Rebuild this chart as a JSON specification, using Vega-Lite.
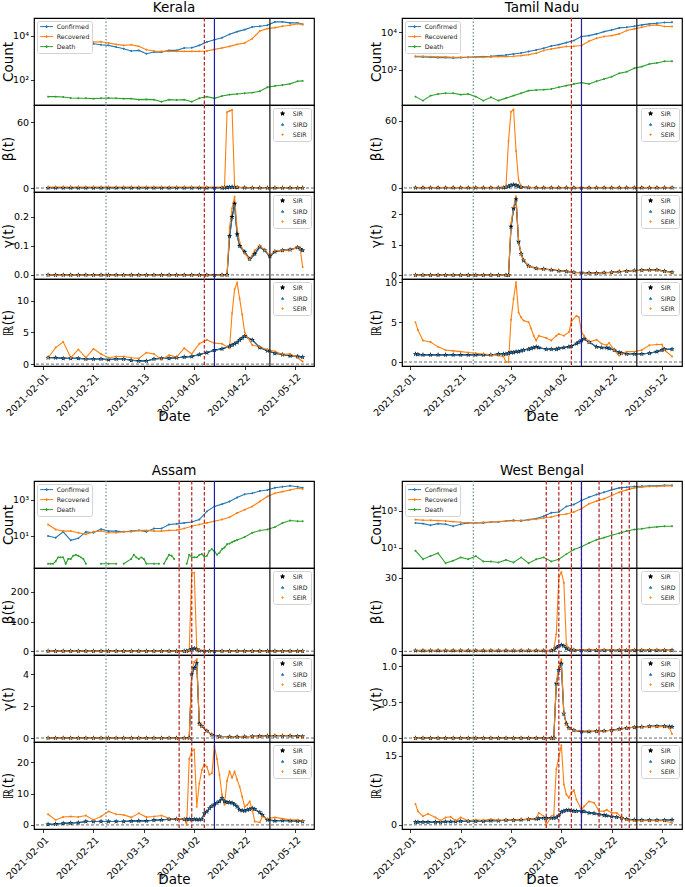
{
"$schema":"https://vega.github.io/schema/vega-lite/v6.json",
"background":"white",
"padding":{"left":0,"top":0,"right":0,"bottom":0},
"config":{
 "font":"DejaVu Sans",
 "view":{"stroke":"#000000","strokeWidth":1.2},
 "axis":{"grid":false,"domain":false,"tickColor":"#000000","tickSize":3.5,"tickWidth":0.8,"labelFont":"DejaVu Sans","labelFontSize":9.5,"labelColor":"#000000","labelPadding":2,"titleFont":"DejaVu Sans","titleFontSize":13.5,"titleFontWeight":"normal","titleColor":"#000000","titlePadding":3},
 "axisY":{"titleX":-22,"titleBaseline":"alphabetic"},
 "axisX":{"titleY":43,"titleBaseline":"top"},
 "legend":{"padding":2.5,"offset":3,"fillColor":"#ffffff","strokeColor":"#d4d4d4","cornerRadius":2,"labelFont":"DejaVu Sans","labelFontSize":6.2,"labelColor":"#222222","symbolSize":16,"symbolOffset":4,"labelOffset":7,"rowPadding":3,"labelLimit":120},
 "title":{"font":"DejaVu Sans","fontSize":13.5,"fontWeight":"normal","color":"#000000","offset":3,"baseline":"alphabetic"}
},
"datasets":{
"e1":[{"d":"2021-02-26","k":"ann"},{"d":"2021-04-06","k":"poll"},{"d":"2021-04-10","k":"blue"},{"d":"2021-05-02","k":"res"}],
"e2":[{"d":"2021-02-26","k":"ann"},{"d":"2021-03-27","k":"poll"},{"d":"2021-04-01","k":"poll"},{"d":"2021-04-06","k":"poll"},{"d":"2021-04-10","k":"blue"},{"d":"2021-05-02","k":"res"}],
"e3":[{"d":"2021-02-26","k":"ann"},{"d":"2021-03-27","k":"poll"},{"d":"2021-04-01","k":"poll"},{"d":"2021-04-06","k":"poll"},{"d":"2021-04-10","k":"poll"},{"d":"2021-04-17","k":"poll"},{"d":"2021-04-22","k":"poll"},{"d":"2021-04-26","k":"poll"},{"d":"2021-04-29","k":"poll"},{"d":"2021-04-10","k":"blue"},{"d":"2021-05-02","k":"res"}],
"kc":[
{"d":"2021-02-03","Confirmed":6300,"Recovered":6790,"Death":17.3},
{"d":"2021-02-06","Confirmed":5900,"Recovered":6330,"Death":17.3},
{"d":"2021-02-09","Confirmed":5700,"Recovered":6330,"Death":16.7},
{"d":"2021-02-12","Confirmed":5300,"Recovered":5900,"Death":15.0},
{"d":"2021-02-15","Confirmed":4800,"Recovered":5900,"Death":14.5},
{"d":"2021-02-18","Confirmed":4450,"Recovered":5700,"Death":14.5},
{"d":"2021-02-21","Confirmed":4450,"Recovered":5300,"Death":14.0},
{"d":"2021-02-24","Confirmed":4000,"Recovered":5500,"Death":14.5},
{"d":"2021-02-27","Confirmed":3740,"Recovered":4800,"Death":15.0},
{"d":"2021-03-02","Confirmed":3140,"Recovered":4160,"Death":14.5},
{"d":"2021-03-05","Confirmed":2630,"Recovered":3740,"Death":14.0},
{"d":"2021-03-08","Confirmed":2060,"Recovered":4000,"Death":14.0},
{"d":"2021-03-11","Confirmed":2210,"Recovered":3370,"Death":12.6},
{"d":"2021-03-14","Confirmed":1550,"Recovered":2370,"Death":13.0},
{"d":"2021-03-17","Confirmed":1850,"Recovered":2060,"Death":12.6},
{"d":"2021-03-20","Confirmed":1850,"Recovered":1990,"Death":10.2},
{"d":"2021-03-23","Confirmed":2210,"Recovered":1990,"Death":12.6},
{"d":"2021-03-26","Confirmed":2210,"Recovered":1990,"Death":12.2},
{"d":"2021-03-29","Confirmed":2830,"Recovered":1990,"Death":12.6},
{"d":"2021-04-01","Confirmed":2920,"Recovered":1990,"Death":10.2},
{"d":"2021-04-04","Confirmed":3740,"Recovered":1990,"Death":14.5},
{"d":"2021-04-07","Confirmed":5300,"Recovered":2060,"Death":17.3},
{"d":"2021-04-10","Confirmed":6790,"Recovered":2450,"Death":14.5},
{"d":"2021-04-13","Confirmed":8390,"Recovered":2830,"Death":18.6},
{"d":"2021-04-16","Confirmed":11900,"Recovered":3370,"Death":21.4},
{"d":"2021-04-19","Confirmed":15800,"Recovered":4160,"Death":23},
{"d":"2021-04-22","Confirmed":19500,"Recovered":4800,"Death":24.6},
{"d":"2021-04-25","Confirmed":25800,"Recovered":7550,"Death":26.4},
{"d":"2021-04-28","Confirmed":27700,"Recovered":16900,"Death":30.3},
{"d":"2021-05-01","Confirmed":30800,"Recovered":21700,"Death":46},
{"d":"2021-05-04","Confirmed":43800,"Recovered":24000,"Death":53},
{"d":"2021-05-07","Confirmed":43800,"Recovered":27700,"Death":59},
{"d":"2021-05-10","Confirmed":39400,"Recovered":30800,"Death":66},
{"d":"2021-05-13","Confirmed":39400,"Recovered":36700,"Death":87},
{"d":"2021-05-15","Confirmed":34200,"Recovered":33000,"Death":90}],
"kb":[
{"d":"2021-02-03","SIR":0.2,"SIRD":0.2,"SEIR":1},{"d":"2021-02-06","SIR":0.2,"SIRD":0.2,"SEIR":1},{"d":"2021-02-09","SIR":0.2,"SIRD":0.2,"SEIR":1},{"d":"2021-02-12","SIR":0.2,"SIRD":0.2,"SEIR":1},{"d":"2021-02-15","SIR":0.2,"SIRD":0.2,"SEIR":1},{"d":"2021-02-18","SIR":0.2,"SIRD":0.2,"SEIR":1},{"d":"2021-02-21","SIR":0.2,"SIRD":0.2,"SEIR":1},{"d":"2021-02-24","SIR":0.2,"SIRD":0.2,"SEIR":1},{"d":"2021-02-27","SIR":0.2,"SIRD":0.2,"SEIR":1},{"d":"2021-03-02","SIR":0.2,"SIRD":0.2,"SEIR":1},{"d":"2021-03-05","SIR":0.2,"SIRD":0.2,"SEIR":1},{"d":"2021-03-08","SIR":0.2,"SIRD":0.2,"SEIR":1},{"d":"2021-03-11","SIR":0.2,"SIRD":0.2,"SEIR":1},{"d":"2021-03-14","SIR":0.2,"SIRD":0.2,"SEIR":1},{"d":"2021-03-17","SIR":0.2,"SIRD":0.2,"SEIR":1},{"d":"2021-03-20","SIR":0.2,"SIRD":0.2,"SEIR":1},{"d":"2021-03-23","SIR":0.2,"SIRD":0.2,"SEIR":1},{"d":"2021-03-26","SIR":0.2,"SIRD":0.2,"SEIR":1},{"d":"2021-03-29","SIR":0.2,"SIRD":0.2,"SEIR":1},{"d":"2021-04-01","SIR":0.2,"SIRD":0.2,"SEIR":1},{"d":"2021-04-04","SIR":0.2,"SIRD":0.2,"SEIR":1},{"d":"2021-04-07","SIR":0.2,"SIRD":0.2,"SEIR":1},{"d":"2021-04-10","SIR":0.2,"SIRD":0.2,"SEIR":1},{"d":"2021-04-13","SIR":0.2,"SIRD":0.2,"SEIR":1},
{"d":"2021-04-14","SIR":0.3,"SIRD":0.3,"SEIR":1},{"d":"2021-04-15","SIR":0.5,"SIRD":0.5,"SEIR":69},{"d":"2021-04-16","SIR":0.8,"SIRD":0.8,"SEIR":70},{"d":"2021-04-17","SIR":1.0,"SIRD":1.0,"SEIR":71},{"d":"2021-04-18","SIR":0.9,"SIRD":0.9,"SEIR":1.5},{"d":"2021-04-19","SIR":0.6,"SIRD":0.6,"SEIR":0.8},{"d":"2021-04-22","SIR":0.3,"SIRD":0.3,"SEIR":0.4},
{"d":"2021-04-25","SIR":0.2,"SIRD":0.2,"SEIR":0.3},{"d":"2021-04-28","SIR":0.2,"SIRD":0.2,"SEIR":0.3},{"d":"2021-05-01","SIR":0.2,"SIRD":0.2,"SEIR":0.3},{"d":"2021-05-04","SIR":0.2,"SIRD":0.2,"SEIR":0.3},{"d":"2021-05-07","SIR":0.2,"SIRD":0.2,"SEIR":0.3},{"d":"2021-05-10","SIR":0.2,"SIRD":0.2,"SEIR":0.3},{"d":"2021-05-13","SIR":0.2,"SIRD":0.2,"SEIR":0.3},{"d":"2021-05-15","SIR":0.2,"SIRD":0.2,"SEIR":0.3}],
"kg":[
{"d":"2021-02-03","SIR":0,"SIRD":0,"SEIR":0},{"d":"2021-02-06","SIR":0,"SIRD":0,"SEIR":0},{"d":"2021-02-09","SIR":0,"SIRD":0,"SEIR":0},{"d":"2021-02-12","SIR":0,"SIRD":0,"SEIR":0},{"d":"2021-02-15","SIR":0,"SIRD":0,"SEIR":0},{"d":"2021-02-18","SIR":0,"SIRD":0,"SEIR":0},{"d":"2021-02-21","SIR":0,"SIRD":0,"SEIR":0},{"d":"2021-02-24","SIR":0,"SIRD":0,"SEIR":0},{"d":"2021-02-27","SIR":0,"SIRD":0,"SEIR":0},{"d":"2021-03-02","SIR":0,"SIRD":0,"SEIR":0},{"d":"2021-03-05","SIR":0,"SIRD":0,"SEIR":0},{"d":"2021-03-08","SIR":0,"SIRD":0,"SEIR":0},{"d":"2021-03-11","SIR":0,"SIRD":0,"SEIR":0},{"d":"2021-03-14","SIR":0,"SIRD":0,"SEIR":0},{"d":"2021-03-17","SIR":0,"SIRD":0,"SEIR":0},{"d":"2021-03-20","SIR":0,"SIRD":0,"SEIR":0},{"d":"2021-03-23","SIR":0,"SIRD":0,"SEIR":0},{"d":"2021-03-26","SIR":0,"SIRD":0,"SEIR":0},{"d":"2021-03-29","SIR":0,"SIRD":0,"SEIR":0},{"d":"2021-04-01","SIR":0,"SIRD":0,"SEIR":0},{"d":"2021-04-04","SIR":0,"SIRD":0,"SEIR":0},{"d":"2021-04-07","SIR":0,"SIRD":0,"SEIR":0},{"d":"2021-04-10","SIR":0,"SIRD":0,"SEIR":0},{"d":"2021-04-13","SIR":0,"SIRD":0,"SEIR":0},{"d":"2021-04-15","SIR":0,"SIRD":0,"SEIR":0},
{"d":"2021-04-16","SIR":0.134,"SIRD":0.13,"SEIR":0.165},{"d":"2021-04-17","SIR":0.2,"SIRD":0.195,"SEIR":0.23},{"d":"2021-04-18","SIR":0.246,"SIRD":0.24,"SEIR":0.27},{"d":"2021-04-19","SIR":0.14,"SIRD":0.135,"SEIR":0.16},{"d":"2021-04-20","SIR":0.1,"SIRD":0.098,"SEIR":0.113},{"d":"2021-04-22","SIR":0.08,"SIRD":0.078,"SEIR":0.073},{"d":"2021-04-24","SIR":0.055,"SIRD":0.053,"SEIR":0.055},{"d":"2021-04-26","SIR":0.073,"SIRD":0.07,"SEIR":0.085},{"d":"2021-04-28","SIR":0.098,"SIRD":0.095,"SEIR":0.1},{"d":"2021-04-30","SIR":0.085,"SIRD":0.083,"SEIR":0.085},{"d":"2021-05-02","SIR":0.064,"SIRD":0.063,"SEIR":0.067},{"d":"2021-05-04","SIR":0.08,"SIRD":0.08,"SEIR":0.084},{"d":"2021-05-07","SIR":0.085,"SIRD":0.085,"SEIR":0.084},{"d":"2021-05-10","SIR":0.087,"SIRD":0.087,"SEIR":0.087},{"d":"2021-05-13","SIR":0.095,"SIRD":0.094,"SEIR":0.094},{"d":"2021-05-14","SIR":0.09,"SIRD":0.09,"SEIR":0.09},{"d":"2021-05-15","SIR":0.085,"SIRD":0.085,"SEIR":0.027}],
"kr":[
{"d":"2021-02-03","SIR":1.0,"SIRD":1.0,"SEIR":1.0},{"d":"2021-02-06","SIR":1.0,"SIRD":1.0,"SEIR":2.6},{"d":"2021-02-09","SIR":0.9,"SIRD":0.9,"SEIR":3.5},{"d":"2021-02-12","SIR":0.9,"SIRD":0.9,"SEIR":1.0},{"d":"2021-02-15","SIR":0.9,"SIRD":0.9,"SEIR":2.3},{"d":"2021-02-18","SIR":0.8,"SIRD":0.8,"SEIR":1.0},{"d":"2021-02-21","SIR":0.8,"SIRD":0.8,"SEIR":2.4},{"d":"2021-02-24","SIR":0.8,"SIRD":0.8,"SEIR":1.6},{"d":"2021-02-27","SIR":0.7,"SIRD":0.7,"SEIR":1.0},{"d":"2021-03-02","SIR":0.8,"SIRD":0.8,"SEIR":1.2},{"d":"2021-03-05","SIR":0.8,"SIRD":0.8,"SEIR":1.2},{"d":"2021-03-08","SIR":0.6,"SIRD":0.6,"SEIR":1.0},{"d":"2021-03-11","SIR":0.5,"SIRD":0.5,"SEIR":0.9},{"d":"2021-03-14","SIR":0.5,"SIRD":0.5,"SEIR":1.8},{"d":"2021-03-17","SIR":0.8,"SIRD":0.8,"SEIR":1.6},{"d":"2021-03-20","SIR":0.9,"SIRD":0.9,"SEIR":0.7},{"d":"2021-03-23","SIR":0.9,"SIRD":0.9,"SEIR":1.4},{"d":"2021-03-26","SIR":1.0,"SIRD":1.0,"SEIR":1.1},{"d":"2021-03-29","SIR":1.1,"SIRD":1.1,"SEIR":2.5},{"d":"2021-04-01","SIR":1.2,"SIRD":1.2,"SEIR":1.6},{"d":"2021-04-04","SIR":1.5,"SIRD":1.5,"SEIR":3.2},{"d":"2021-04-07","SIR":1.8,"SIRD":1.8,"SEIR":3.8},{"d":"2021-04-10","SIR":2.2,"SIRD":2.2,"SEIR":3.3},{"d":"2021-04-13","SIR":2.4,"SIRD":2.4,"SEIR":3.2},{"d":"2021-04-16","SIR":2.8,"SIRD":2.8,"SEIR":2.5},{"d":"2021-04-17","SIR":3.0,"SIRD":3.0,"SEIR":8.0},{"d":"2021-04-18","SIR":3.2,"SIRD":3.2,"SEIR":11.8},{"d":"2021-04-19","SIR":3.4,"SIRD":3.4,"SEIR":12.8},{"d":"2021-04-20","SIR":3.8,"SIRD":3.8,"SEIR":10.3},{"d":"2021-04-21","SIR":4.1,"SIRD":4.1,"SEIR":7.8},{"d":"2021-04-22","SIR":4.4,"SIRD":4.4,"SEIR":5.0},{"d":"2021-04-25","SIR":3.8,"SIRD":3.8,"SEIR":3.0},{"d":"2021-04-28","SIR":2.6,"SIRD":2.6,"SEIR":2.7},{"d":"2021-05-01","SIR":2.1,"SIRD":2.1,"SEIR":2.3},{"d":"2021-05-04","SIR":1.7,"SIRD":1.7,"SEIR":2.0},{"d":"2021-05-07","SIR":1.5,"SIRD":1.5,"SEIR":1.5},{"d":"2021-05-10","SIR":1.3,"SIRD":1.3,"SEIR":1.6},{"d":"2021-05-13","SIR":1.2,"SIRD":1.2,"SEIR":1.0},{"d":"2021-05-15","SIR":1.1,"SIRD":1.1,"SEIR":0.4}],
"tc":[
{"d":"2021-02-03","Confirmed":511,"Recovered":532,"Death":3.84},{"d":"2021-02-06","Confirmed":491,"Recovered":532,"Death":2.35},{"d":"2021-02-09","Confirmed":471,"Recovered":511,"Death":4.33},{"d":"2021-02-12","Confirmed":452,"Recovered":491,"Death":5.32},{"d":"2021-02-15","Confirmed":452,"Recovered":491,"Death":5.75},{"d":"2021-02-18","Confirmed":434,"Recovered":471,"Death":5.75},{"d":"2021-02-21","Confirmed":452,"Recovered":471,"Death":4.9},{"d":"2021-02-24","Confirmed":471,"Recovered":471,"Death":5.32},{"d":"2021-02-27","Confirmed":491,"Recovered":471,"Death":3.84},{"d":"2021-03-02","Confirmed":511,"Recovered":471,"Death":2.35},{"d":"2021-03-05","Confirmed":532,"Recovered":491,"Death":3.55},{"d":"2021-03-08","Confirmed":577,"Recovered":511,"Death":2.35},{"d":"2021-03-11","Confirmed":626,"Recovered":511,"Death":3.2},{"d":"2021-03-14","Confirmed":707,"Recovered":532,"Death":4.33},{"d":"2021-03-17","Confirmed":798,"Recovered":577,"Death":5.75},{"d":"2021-03-20","Confirmed":942,"Recovered":652,"Death":8.0},{"d":"2021-03-23","Confirmed":1150,"Recovered":767,"Death":8.7},{"d":"2021-03-26","Confirmed":1410,"Recovered":1065,"Death":9.0},{"d":"2021-03-29","Confirmed":1880,"Recovered":1300,"Death":9.8},{"d":"2021-04-01","Confirmed":2210,"Recovered":1530,"Death":12.0},{"d":"2021-04-04","Confirmed":2820,"Recovered":1740,"Death":14.7},{"d":"2021-04-07","Confirmed":3610,"Recovered":1810,"Death":18.1},{"d":"2021-04-10","Confirmed":5890,"Recovered":1960,"Death":21.2},{"d":"2021-04-13","Confirmed":6650,"Recovered":3330,"Death":18.1},{"d":"2021-04-16","Confirmed":8160,"Recovered":4800,"Death":25},{"d":"2021-04-19","Confirmed":10800,"Recovered":5890,"Death":33},{"d":"2021-04-22","Confirmed":13300,"Recovered":6650,"Death":44},{"d":"2021-04-25","Confirmed":16970,"Recovered":8160,"Death":66},{"d":"2021-04-28","Confirmed":18400,"Recovered":12260,"Death":81},{"d":"2021-05-01","Confirmed":20800,"Recovered":15030,"Death":122},{"d":"2021-05-04","Confirmed":24500,"Recovered":18400,"Death":150},{"d":"2021-05-07","Confirmed":27700,"Recovered":22600,"Death":208},{"d":"2021-05-10","Confirmed":30100,"Recovered":24500,"Death":236},{"d":"2021-05-13","Confirmed":32700,"Recovered":20000,"Death":290},{"d":"2021-05-16","Confirmed":34000,"Recovered":20000,"Death":290}],
"tb":[
{"d":"2021-02-03","SIR":0.2,"SIRD":0.2,"SEIR":0.3},{"d":"2021-02-06","SIR":0.2,"SIRD":0.2,"SEIR":0.3},{"d":"2021-02-09","SIR":0.2,"SIRD":0.2,"SEIR":0.3},{"d":"2021-02-12","SIR":0.2,"SIRD":0.2,"SEIR":0.3},{"d":"2021-02-15","SIR":0.2,"SIRD":0.2,"SEIR":0.3},{"d":"2021-02-18","SIR":0.2,"SIRD":0.2,"SEIR":0.3},{"d":"2021-02-21","SIR":0.2,"SIRD":0.2,"SEIR":0.3},{"d":"2021-02-24","SIR":0.2,"SIRD":0.2,"SEIR":0.3},{"d":"2021-02-27","SIR":0.2,"SIRD":0.2,"SEIR":0.3},{"d":"2021-03-02","SIR":0.2,"SIRD":0.2,"SEIR":0.3},{"d":"2021-03-05","SIR":0.2,"SIRD":0.2,"SEIR":0.3},{"d":"2021-03-08","SIR":0.2,"SIRD":0.2,"SEIR":0.3},
{"d":"2021-03-10","SIR":0.3,"SIRD":0.3,"SEIR":0.5},{"d":"2021-03-11","SIR":0.8,"SIRD":0.8,"SEIR":1.5},{"d":"2021-03-12","SIR":1.5,"SIRD":1.5,"SEIR":42},{"d":"2021-03-13","SIR":2.5,"SIRD":2.5,"SEIR":68},{"d":"2021-03-14","SIR":3.0,"SIRD":3.0,"SEIR":70},{"d":"2021-03-15","SIR":2.5,"SIRD":2.5,"SEIR":33},{"d":"2021-03-16","SIR":1.5,"SIRD":1.5,"SEIR":7},{"d":"2021-03-17","SIR":0.8,"SIRD":0.8,"SEIR":1.5},{"d":"2021-03-20","SIR":0.4,"SIRD":0.4,"SEIR":0.5},
{"d":"2021-03-23","SIR":0.2,"SIRD":0.2,"SEIR":0.3},{"d":"2021-03-26","SIR":0.2,"SIRD":0.2,"SEIR":0.3},{"d":"2021-03-29","SIR":0.2,"SIRD":0.2,"SEIR":0.3},{"d":"2021-04-01","SIR":0.2,"SIRD":0.2,"SEIR":0.3},{"d":"2021-04-04","SIR":0.2,"SIRD":0.2,"SEIR":0.3},{"d":"2021-04-07","SIR":0.2,"SIRD":0.2,"SEIR":0.3},{"d":"2021-04-10","SIR":0.2,"SIRD":0.2,"SEIR":0.3},{"d":"2021-04-13","SIR":0.2,"SIRD":0.2,"SEIR":0.3},{"d":"2021-04-16","SIR":0.2,"SIRD":0.2,"SEIR":0.3},{"d":"2021-04-19","SIR":0.2,"SIRD":0.2,"SEIR":0.3},{"d":"2021-04-22","SIR":0.2,"SIRD":0.2,"SEIR":0.3},{"d":"2021-04-25","SIR":0.2,"SIRD":0.2,"SEIR":0.3},{"d":"2021-04-28","SIR":0.2,"SIRD":0.2,"SEIR":0.3},{"d":"2021-05-01","SIR":0.2,"SIRD":0.2,"SEIR":0.3},{"d":"2021-05-04","SIR":0.2,"SIRD":0.2,"SEIR":0.3},{"d":"2021-05-07","SIR":0.2,"SIRD":0.2,"SEIR":0.3},{"d":"2021-05-10","SIR":0.2,"SIRD":0.2,"SEIR":0.3},{"d":"2021-05-13","SIR":0.2,"SIRD":0.2,"SEIR":0.3},{"d":"2021-05-16","SIR":0.2,"SIRD":0.2,"SEIR":0.3}],
"tg":[
{"d":"2021-02-03","SIR":0,"SIRD":0,"SEIR":0},{"d":"2021-02-06","SIR":0,"SIRD":0,"SEIR":0},{"d":"2021-02-09","SIR":0,"SIRD":0,"SEIR":0},{"d":"2021-02-12","SIR":0,"SIRD":0,"SEIR":0},{"d":"2021-02-15","SIR":0,"SIRD":0,"SEIR":0},{"d":"2021-02-18","SIR":0,"SIRD":0,"SEIR":0},{"d":"2021-02-21","SIR":0,"SIRD":0,"SEIR":0},{"d":"2021-02-24","SIR":0,"SIRD":0,"SEIR":0},{"d":"2021-02-27","SIR":0,"SIRD":0,"SEIR":0},{"d":"2021-03-02","SIR":0,"SIRD":0,"SEIR":0},{"d":"2021-03-05","SIR":0,"SIRD":0,"SEIR":0},{"d":"2021-03-08","SIR":0,"SIRD":0,"SEIR":0},{"d":"2021-03-11","SIR":0,"SIRD":0,"SEIR":0},{"d":"2021-03-12","SIR":0,"SIRD":0,"SEIR":0},
{"d":"2021-03-13","SIR":1.6,"SIRD":1.55,"SEIR":1.7},{"d":"2021-03-14","SIR":2.2,"SIRD":2.15,"SEIR":2.25},{"d":"2021-03-15","SIR":2.5,"SIRD":2.45,"SEIR":2.6},{"d":"2021-03-16","SIR":1.1,"SIRD":1.08,"SEIR":1.15},{"d":"2021-03-17","SIR":0.7,"SIRD":0.69,"SEIR":0.7},{"d":"2021-03-18","SIR":0.48,"SIRD":0.47,"SEIR":0.5},{"d":"2021-03-20","SIR":0.3,"SIRD":0.3,"SEIR":0.3},{"d":"2021-03-23","SIR":0.22,"SIRD":0.22,"SEIR":0.22},{"d":"2021-03-26","SIR":0.2,"SIRD":0.2,"SEIR":0.2},{"d":"2021-03-29","SIR":0.17,"SIRD":0.17,"SEIR":0.18},{"d":"2021-04-01","SIR":0.14,"SIRD":0.14,"SEIR":0.15},{"d":"2021-04-04","SIR":0.12,"SIRD":0.12,"SEIR":0.12},{"d":"2021-04-07","SIR":0.09,"SIRD":0.09,"SEIR":0.09},{"d":"2021-04-10","SIR":0.08,"SIRD":0.08,"SEIR":0.08},{"d":"2021-04-13","SIR":0.07,"SIRD":0.07,"SEIR":0.07},{"d":"2021-04-16","SIR":0.07,"SIRD":0.07,"SEIR":0.07},{"d":"2021-04-19","SIR":0.08,"SIRD":0.08,"SEIR":0.08},{"d":"2021-04-22","SIR":0.09,"SIRD":0.09,"SEIR":0.09},{"d":"2021-04-25","SIR":0.11,"SIRD":0.11,"SEIR":0.11},{"d":"2021-04-28","SIR":0.13,"SIRD":0.13,"SEIR":0.13},{"d":"2021-05-01","SIR":0.15,"SIRD":0.15,"SEIR":0.15},{"d":"2021-05-04","SIR":0.16,"SIRD":0.16,"SEIR":0.16},{"d":"2021-05-07","SIR":0.17,"SIRD":0.17,"SEIR":0.17},{"d":"2021-05-10","SIR":0.17,"SIRD":0.17,"SEIR":0.16},{"d":"2021-05-13","SIR":0.13,"SIRD":0.13,"SEIR":0.12},{"d":"2021-05-16","SIR":0.09,"SIRD":0.09,"SEIR":0.08}],
"tr":[
{"d":"2021-02-03","SIR":1.0,"SIRD":1.0,"SEIR":5.0},{"d":"2021-02-04","SIR":0.95,"SIRD":0.95,"SEIR":4.0},{"d":"2021-02-06","SIR":0.9,"SIRD":0.9,"SEIR":2.7},{"d":"2021-02-09","SIR":0.9,"SIRD":0.9,"SEIR":2.5},{"d":"2021-02-12","SIR":0.9,"SIRD":0.9,"SEIR":1.9},{"d":"2021-02-15","SIR":0.9,"SIRD":0.9,"SEIR":1.5},{"d":"2021-02-18","SIR":0.9,"SIRD":0.9,"SEIR":1.4},{"d":"2021-02-21","SIR":0.9,"SIRD":0.9,"SEIR":1.3},{"d":"2021-02-24","SIR":0.9,"SIRD":0.9,"SEIR":1.2},{"d":"2021-02-27","SIR":0.9,"SIRD":0.9,"SEIR":1.1},{"d":"2021-03-02","SIR":0.9,"SIRD":0.9,"SEIR":1.0},{"d":"2021-03-05","SIR":0.9,"SIRD":0.9,"SEIR":0.9},{"d":"2021-03-08","SIR":1.0,"SIRD":1.0,"SEIR":0.8},{"d":"2021-03-10","SIR":1.0,"SIRD":1.0,"SEIR":0.7},{"d":"2021-03-11","SIR":1.0,"SIRD":1.0,"SEIR":0.0},{"d":"2021-03-12","SIR":1.1,"SIRD":1.1,"SEIR":0.0},{"d":"2021-03-13","SIR":1.2,"SIRD":1.2,"SEIR":5.3},{"d":"2021-03-14","SIR":1.2,"SIRD":1.2,"SEIR":7.9},{"d":"2021-03-15","SIR":1.3,"SIRD":1.3,"SEIR":10.0},{"d":"2021-03-16","SIR":1.3,"SIRD":1.3,"SEIR":6.2},{"d":"2021-03-17","SIR":1.4,"SIRD":1.4,"SEIR":5.6},{"d":"2021-03-18","SIR":1.5,"SIRD":1.5,"SEIR":5.2},{"d":"2021-03-20","SIR":1.6,"SIRD":1.6,"SEIR":5.0},{"d":"2021-03-21","SIR":1.7,"SIRD":1.7,"SEIR":4.2},{"d":"2021-03-22","SIR":1.8,"SIRD":1.8,"SEIR":3.3},{"d":"2021-03-23","SIR":1.9,"SIRD":1.9,"SEIR":2.7},{"d":"2021-03-24","SIR":1.8,"SIRD":1.8,"SEIR":3.3},{"d":"2021-03-27","SIR":1.6,"SIRD":1.6,"SEIR":3.0},{"d":"2021-03-29","SIR":1.6,"SIRD":1.6,"SEIR":2.7},{"d":"2021-03-31","SIR":1.6,"SIRD":1.6,"SEIR":3.3},{"d":"2021-04-01","SIR":1.7,"SIRD":1.7,"SEIR":3.5},{"d":"2021-04-03","SIR":1.8,"SIRD":1.8,"SEIR":3.3},{"d":"2021-04-05","SIR":1.9,"SIRD":1.9,"SEIR":3.75},{"d":"2021-04-06","SIR":2.0,"SIRD":2.0,"SEIR":5.1},{"d":"2021-04-08","SIR":2.3,"SIRD":2.3,"SEIR":5.8},{"d":"2021-04-09","SIR":2.5,"SIRD":2.5,"SEIR":5.6},{"d":"2021-04-10","SIR":2.7,"SIRD":2.7,"SEIR":3.75},{"d":"2021-04-11","SIR":2.9,"SIRD":2.9,"SEIR":3.3},{"d":"2021-04-13","SIR":2.5,"SIRD":2.5,"SEIR":2.5},{"d":"2021-04-16","SIR":1.9,"SIRD":1.9,"SEIR":2.8},{"d":"2021-04-18","SIR":1.8,"SIRD":1.8,"SEIR":2.3},{"d":"2021-04-20","SIR":1.8,"SIRD":1.8,"SEIR":2.1},{"d":"2021-04-21","SIR":1.7,"SIRD":1.7,"SEIR":2.4},{"d":"2021-04-23","SIR":1.5,"SIRD":1.5,"SEIR":1.5},{"d":"2021-04-25","SIR":1.2,"SIRD":1.2,"SEIR":0.8},{"d":"2021-04-26","SIR":1.1,"SIRD":1.1,"SEIR":1.0},{"d":"2021-04-28","SIR":1.0,"SIRD":1.0,"SEIR":1.3},{"d":"2021-05-01","SIR":1.0,"SIRD":1.0,"SEIR":1.3},{"d":"2021-05-04","SIR":1.0,"SIRD":1.0,"SEIR":1.5},{"d":"2021-05-07","SIR":1.1,"SIRD":1.1,"SEIR":2.1},{"d":"2021-05-10","SIR":1.3,"SIRD":1.3,"SEIR":2.2},{"d":"2021-05-12","SIR":1.5,"SIRD":1.5,"SEIR":2.2},{"d":"2021-05-13","SIR":1.6,"SIRD":1.6,"SEIR":1.5},{"d":"2021-05-16","SIR":1.6,"SIRD":1.6,"SEIR":0.7}],
"ac":[
{"d":"2021-02-03","Confirmed":10,"Recovered":43,"Death":0.29},{"d":"2021-02-04","Confirmed":null,"Recovered":null,"Death":0.29},{"d":"2021-02-05","Confirmed":null,"Recovered":null,"Death":0.29},{"d":"2021-02-06","Confirmed":8,"Recovered":23,"Death":0.4},{"d":"2021-02-07","Confirmed":null,"Recovered":null,"Death":0.66},{"d":"2021-02-08","Confirmed":null,"Recovered":null,"Death":0.66},{"d":"2021-02-09","Confirmed":17,"Recovered":18.7,"Death":0.66},{"d":"2021-02-10","Confirmed":null,"Recovered":null,"Death":0.29},{"d":"2021-02-11","Confirmed":null,"Recovered":null,"Death":0.54},{"d":"2021-02-12","Confirmed":5.8,"Recovered":18.7,"Death":0.54},{"d":"2021-02-13","Confirmed":null,"Recovered":null,"Death":0.81},{"d":"2021-02-14","Confirmed":null,"Recovered":null,"Death":0.92},{"d":"2021-02-15","Confirmed":7.4,"Recovered":15.2,"Death":0.81},{"d":"2021-02-16","Confirmed":null,"Recovered":null,"Death":0.66},{"d":"2021-02-17","Confirmed":null,"Recovered":null,"Death":0.54},{"d":"2021-02-18","Confirmed":17,"Recovered":12.3,"Death":0.29},{"d":"2021-02-19","Confirmed":null,"Recovered":null,"Death":null},{"d":"2021-02-21","Confirmed":15.2,"Recovered":17.2,"Death":null},{"d":"2021-02-23","Confirmed":null,"Recovered":null,"Death":null},{"d":"2021-02-24","Confirmed":24,"Recovered":18.7,"Death":0.29},{"d":"2021-02-27","Confirmed":18.7,"Recovered":15.2,"Death":0.29},{"d":"2021-03-02","Confirmed":18.7,"Recovered":15.2,"Death":0.29},{"d":"2021-03-03","Confirmed":null,"Recovered":null,"Death":null},{"d":"2021-03-05","Confirmed":17.2,"Recovered":17.2,"Death":0.29},{"d":"2021-03-08","Confirmed":18.7,"Recovered":17.2,"Death":0.54},{"d":"2021-03-09","Confirmed":null,"Recovered":null,"Death":0.92},{"d":"2021-03-10","Confirmed":null,"Recovered":null,"Death":0.66},{"d":"2021-03-11","Confirmed":20.4,"Recovered":20.4,"Death":0.54},{"d":"2021-03-12","Confirmed":null,"Recovered":null,"Death":0.66},{"d":"2021-03-13","Confirmed":null,"Recovered":null,"Death":0.54},{"d":"2021-03-14","Confirmed":17.2,"Recovered":20.4,"Death":0.29},{"d":"2021-03-17","Confirmed":26,"Recovered":18.7,"Death":0.29},{"d":"2021-03-19","Confirmed":null,"Recovered":null,"Death":0.29},{"d":"2021-03-20","Confirmed":26,"Recovered":18.7,"Death":null},{"d":"2021-03-21","Confirmed":null,"Recovered":null,"Death":0.29},{"d":"2021-03-22","Confirmed":null,"Recovered":null,"Death":0.54},{"d":"2021-03-23","Confirmed":43,"Recovered":20.4,"Death":0.92},{"d":"2021-03-24","Confirmed":null,"Recovered":null,"Death":0.81},{"d":"2021-03-25","Confirmed":null,"Recovered":null,"Death":0.54},{"d":"2021-03-26","Confirmed":47,"Recovered":21.2,"Death":null},{"d":"2021-03-29","Confirmed":53,"Recovered":26,"Death":null},{"d":"2021-03-30","Confirmed":null,"Recovered":null,"Death":0.29},{"d":"2021-03-31","Confirmed":null,"Recovered":null,"Death":0.92},{"d":"2021-04-01","Confirmed":60,"Recovered":35,"Death":0.66},{"d":"2021-04-02","Confirmed":null,"Recovered":null,"Death":0.66},{"d":"2021-04-03","Confirmed":null,"Recovered":null,"Death":0.66},{"d":"2021-04-04","Confirmed":81,"Recovered":43,"Death":0.9},{"d":"2021-04-05","Confirmed":null,"Recovered":null,"Death":1.0},{"d":"2021-04-06","Confirmed":null,"Recovered":null,"Death":0.7},{"d":"2021-04-07","Confirmed":231,"Recovered":53,"Death":0.8},{"d":"2021-04-08","Confirmed":null,"Recovered":null,"Death":1.5},{"d":"2021-04-09","Confirmed":null,"Recovered":null,"Death":1.87},{"d":"2021-04-10","Confirmed":433,"Recovered":66,"Death":1.4},{"d":"2021-04-11","Confirmed":null,"Recovered":null,"Death":0.92},{"d":"2021-04-12","Confirmed":null,"Recovered":null,"Death":1.2},{"d":"2021-04-13","Confirmed":580,"Recovered":81,"Death":1.87},{"d":"2021-04-14","Confirmed":null,"Recovered":null,"Death":2.3},{"d":"2021-04-15","Confirmed":null,"Recovered":null,"Death":3.5},{"d":"2021-04-16","Confirmed":810,"Recovered":109,"Death":3.8},{"d":"2021-04-17","Confirmed":null,"Recovered":null,"Death":4.5},{"d":"2021-04-18","Confirmed":null,"Recovered":null,"Death":5.3},{"d":"2021-04-19","Confirmed":1340,"Recovered":187,"Death":6},{"d":"2021-04-22","Confirmed":2040,"Recovered":285,"Death":8.8},{"d":"2021-04-25","Confirmed":2300,"Recovered":433,"Death":15},{"d":"2021-04-28","Confirmed":3090,"Recovered":810,"Death":20},{"d":"2021-05-01","Confirmed":3510,"Recovered":1520,"Death":23},{"d":"2021-05-04","Confirmed":4700,"Recovered":2300,"Death":31},{"d":"2021-05-07","Confirmed":5340,"Recovered":2830,"Death":53},{"d":"2021-05-10","Confirmed":6050,"Recovered":3510,"Death":72},{"d":"2021-05-13","Confirmed":5340,"Recovered":4330,"Death":66},{"d":"2021-05-15","Confirmed":4700,"Recovered":3980,"Death":66}],
"ab":[
{"d":"2021-02-03","SIR":0.3,"SIRD":0.3,"SEIR":0.5},{"d":"2021-02-06","SIR":0.3,"SIRD":0.3,"SEIR":0.5},{"d":"2021-02-09","SIR":0.3,"SIRD":0.3,"SEIR":0.5},{"d":"2021-02-12","SIR":0.3,"SIRD":0.3,"SEIR":0.5},{"d":"2021-02-15","SIR":0.3,"SIRD":0.3,"SEIR":0.5},{"d":"2021-02-18","SIR":0.3,"SIRD":0.3,"SEIR":0.5},{"d":"2021-02-21","SIR":0.3,"SIRD":0.3,"SEIR":0.5},{"d":"2021-02-24","SIR":0.3,"SIRD":0.3,"SEIR":0.5},{"d":"2021-02-27","SIR":0.3,"SIRD":0.3,"SEIR":0.5},{"d":"2021-03-02","SIR":0.3,"SIRD":0.3,"SEIR":0.5},{"d":"2021-03-05","SIR":0.3,"SIRD":0.3,"SEIR":0.5},{"d":"2021-03-08","SIR":0.3,"SIRD":0.3,"SEIR":0.5},{"d":"2021-03-11","SIR":0.3,"SIRD":0.3,"SEIR":0.5},{"d":"2021-03-14","SIR":0.3,"SIRD":0.3,"SEIR":0.5},{"d":"2021-03-17","SIR":0.3,"SIRD":0.3,"SEIR":0.5},{"d":"2021-03-20","SIR":0.3,"SIRD":0.3,"SEIR":0.5},{"d":"2021-03-23","SIR":0.3,"SIRD":0.3,"SEIR":0.5},{"d":"2021-03-26","SIR":0.3,"SIRD":0.3,"SEIR":0.5},{"d":"2021-03-29","SIR":0.3,"SIRD":0.3,"SEIR":0.5},
{"d":"2021-03-30","SIR":0.5,"SIRD":0.5,"SEIR":1},{"d":"2021-03-31","SIR":3,"SIRD":3,"SEIR":2},{"d":"2021-04-01","SIR":8,"SIRD":8,"SEIR":265},{"d":"2021-04-02","SIR":9,"SIRD":9,"SEIR":265},{"d":"2021-04-03","SIR":6,"SIRD":6,"SEIR":5},{"d":"2021-04-04","SIR":2,"SIRD":2,"SEIR":4},{"d":"2021-04-06","SIR":0.8,"SIRD":0.8,"SEIR":3},{"d":"2021-04-08","SIR":0.5,"SIRD":0.5,"SEIR":1},
{"d":"2021-04-10","SIR":0.3,"SIRD":0.3,"SEIR":0.5},{"d":"2021-04-13","SIR":0.3,"SIRD":0.3,"SEIR":0.5},{"d":"2021-04-16","SIR":0.3,"SIRD":0.3,"SEIR":0.5},{"d":"2021-04-19","SIR":0.3,"SIRD":0.3,"SEIR":0.5},{"d":"2021-04-22","SIR":0.3,"SIRD":0.3,"SEIR":0.5},{"d":"2021-04-25","SIR":0.3,"SIRD":0.3,"SEIR":0.5},{"d":"2021-04-28","SIR":0.3,"SIRD":0.3,"SEIR":0.5},{"d":"2021-05-01","SIR":0.3,"SIRD":0.3,"SEIR":0.5},{"d":"2021-05-04","SIR":0.3,"SIRD":0.3,"SEIR":0.5},{"d":"2021-05-07","SIR":0.3,"SIRD":0.3,"SEIR":0.5},{"d":"2021-05-10","SIR":0.3,"SIRD":0.3,"SEIR":0.5},{"d":"2021-05-13","SIR":0.3,"SIRD":0.3,"SEIR":0.5},{"d":"2021-05-15","SIR":0.3,"SIRD":0.3,"SEIR":0.5}],
"ag":[
{"d":"2021-02-03","SIR":0,"SIRD":0,"SEIR":0},{"d":"2021-02-06","SIR":0,"SIRD":0,"SEIR":0},{"d":"2021-02-09","SIR":0,"SIRD":0,"SEIR":0},{"d":"2021-02-12","SIR":0,"SIRD":0,"SEIR":0},{"d":"2021-02-15","SIR":0,"SIRD":0,"SEIR":0},{"d":"2021-02-18","SIR":0,"SIRD":0,"SEIR":0},{"d":"2021-02-21","SIR":0,"SIRD":0,"SEIR":0},{"d":"2021-02-24","SIR":0,"SIRD":0,"SEIR":0},{"d":"2021-02-27","SIR":0,"SIRD":0,"SEIR":0},{"d":"2021-03-02","SIR":0,"SIRD":0,"SEIR":0},{"d":"2021-03-05","SIR":0,"SIRD":0,"SEIR":0},{"d":"2021-03-08","SIR":0,"SIRD":0,"SEIR":0},{"d":"2021-03-11","SIR":0,"SIRD":0,"SEIR":0},{"d":"2021-03-14","SIR":0,"SIRD":0,"SEIR":0},{"d":"2021-03-17","SIR":0,"SIRD":0,"SEIR":0},{"d":"2021-03-20","SIR":0,"SIRD":0,"SEIR":0},{"d":"2021-03-23","SIR":0,"SIRD":0,"SEIR":0},{"d":"2021-03-26","SIR":0,"SIRD":0,"SEIR":0},{"d":"2021-03-29","SIR":0,"SIRD":0,"SEIR":0},{"d":"2021-03-31","SIR":0,"SIRD":0,"SEIR":0},
{"d":"2021-04-01","SIR":4.0,"SIRD":3.95,"SEIR":4.16},{"d":"2021-04-02","SIR":4.4,"SIRD":4.35,"SEIR":4.8},{"d":"2021-04-03","SIR":4.7,"SIRD":4.65,"SEIR":4.95},{"d":"2021-04-04","SIR":0.9,"SIRD":0.88,"SEIR":0.85},{"d":"2021-04-05","SIR":0.75,"SIRD":0.74,"SEIR":0.72},{"d":"2021-04-07","SIR":0.45,"SIRD":0.44,"SEIR":0.45},{"d":"2021-04-09","SIR":0.2,"SIRD":0.2,"SEIR":0.2},{"d":"2021-04-12","SIR":0.1,"SIRD":0.1,"SEIR":0.1},{"d":"2021-04-16","SIR":0.08,"SIRD":0.08,"SEIR":0.08},{"d":"2021-04-19","SIR":0.08,"SIRD":0.08,"SEIR":0.08},{"d":"2021-04-22","SIR":0.09,"SIRD":0.09,"SEIR":0.09},{"d":"2021-04-25","SIR":0.1,"SIRD":0.1,"SEIR":0.1},{"d":"2021-04-28","SIR":0.12,"SIRD":0.12,"SEIR":0.12},{"d":"2021-05-01","SIR":0.14,"SIRD":0.14,"SEIR":0.14},{"d":"2021-05-04","SIR":0.14,"SIRD":0.14,"SEIR":0.14},{"d":"2021-05-07","SIR":0.14,"SIRD":0.14,"SEIR":0.14},{"d":"2021-05-10","SIR":0.14,"SIRD":0.14,"SEIR":0.14},{"d":"2021-05-13","SIR":0.12,"SIRD":0.12,"SEIR":0.12},{"d":"2021-05-15","SIR":0.1,"SIRD":0.1,"SEIR":0.08}],
"ar":[
{"d":"2021-02-03","SIR":0.2,"SIRD":0.2,"SEIR":3.4},{"d":"2021-02-06","SIR":0.3,"SIRD":0.3,"SEIR":1.6},{"d":"2021-02-09","SIR":0.5,"SIRD":0.5,"SEIR":2.5},{"d":"2021-02-12","SIR":0.6,"SIRD":0.6,"SEIR":2.7},{"d":"2021-02-15","SIR":0.7,"SIRD":0.7,"SEIR":2.5},{"d":"2021-02-18","SIR":1.1,"SIRD":1.1,"SEIR":3.0},{"d":"2021-02-21","SIR":1.1,"SIRD":1.1,"SEIR":1.6},{"d":"2021-02-24","SIR":1.1,"SIRD":1.1,"SEIR":2.7},{"d":"2021-02-27","SIR":1.1,"SIRD":1.1,"SEIR":4.3},{"d":"2021-03-02","SIR":1.1,"SIRD":1.1,"SEIR":3.4},{"d":"2021-03-05","SIR":1.1,"SIRD":1.1,"SEIR":3.2},{"d":"2021-03-08","SIR":1.2,"SIRD":1.2,"SEIR":2.4},{"d":"2021-03-11","SIR":1.3,"SIRD":1.3,"SEIR":3.7},{"d":"2021-03-14","SIR":1.3,"SIRD":1.3,"SEIR":2.5},{"d":"2021-03-17","SIR":1.5,"SIRD":1.5,"SEIR":2.7},{"d":"2021-03-20","SIR":1.6,"SIRD":1.6,"SEIR":3.0},{"d":"2021-03-23","SIR":1.8,"SIRD":1.8,"SEIR":2.1},{"d":"2021-03-26","SIR":1.9,"SIRD":1.9,"SEIR":2.0},{"d":"2021-03-29","SIR":1.8,"SIRD":1.8,"SEIR":2.0},{"d":"2021-03-30","SIR":1.8,"SIRD":1.8,"SEIR":0},{"d":"2021-03-31","SIR":1.8,"SIRD":1.8,"SEIR":21},{"d":"2021-04-01","SIR":1.8,"SIRD":1.8,"SEIR":23.5},{"d":"2021-04-02","SIR":1.8,"SIRD":1.8,"SEIR":24},{"d":"2021-04-03","SIR":1.7,"SIRD":1.7,"SEIR":5.8},{"d":"2021-04-04","SIR":1.7,"SIRD":1.7,"SEIR":13.2},{"d":"2021-04-05","SIR":1.8,"SIRD":1.8,"SEIR":17.5},{"d":"2021-04-06","SIR":3.7,"SIRD":3.7,"SEIR":19.3},{"d":"2021-04-07","SIR":4.2,"SIRD":4.2,"SEIR":18.5},{"d":"2021-04-08","SIR":5.3,"SIRD":5.3,"SEIR":16},{"d":"2021-04-09","SIR":6.0,"SIRD":6.0,"SEIR":16.5},{"d":"2021-04-10","SIR":6.5,"SIRD":6.5,"SEIR":25},{"d":"2021-04-11","SIR":7.0,"SIRD":7.0,"SEIR":21},{"d":"2021-04-12","SIR":7.5,"SIRD":7.5,"SEIR":16},{"d":"2021-04-13","SIR":8.5,"SIRD":8.5,"SEIR":9.6},{"d":"2021-04-14","SIR":7.5,"SIRD":7.5,"SEIR":6.4},{"d":"2021-04-15","SIR":7.2,"SIRD":7.2,"SEIR":14},{"d":"2021-04-16","SIR":7.2,"SIRD":7.2,"SEIR":17},{"d":"2021-04-17","SIR":7.0,"SIRD":7.0,"SEIR":15},{"d":"2021-04-18","SIR":6.5,"SIRD":6.5,"SEIR":17},{"d":"2021-04-19","SIR":5.8,"SIRD":5.8,"SEIR":14.4},{"d":"2021-04-20","SIR":4.8,"SIRD":4.8,"SEIR":12.2},{"d":"2021-04-21","SIR":4.6,"SIRD":4.6,"SEIR":9},{"d":"2021-04-22","SIR":4.5,"SIRD":4.5,"SEIR":5.8},{"d":"2021-04-23","SIR":4.8,"SIRD":4.8,"SEIR":6.4},{"d":"2021-04-24","SIR":5.0,"SIRD":5.0,"SEIR":7.5},{"d":"2021-04-25","SIR":5.3,"SIRD":5.3,"SEIR":4.8},{"d":"2021-04-26","SIR":5.0,"SIRD":5.0,"SEIR":1.1},{"d":"2021-04-28","SIR":4.0,"SIRD":4.0,"SEIR":0.8},{"d":"2021-04-29","SIR":3.2,"SIRD":3.2,"SEIR":2.7},{"d":"2021-05-01","SIR":1.6,"SIRD":1.6,"SEIR":2.0},{"d":"2021-05-04","SIR":1.3,"SIRD":1.3,"SEIR":2.4},{"d":"2021-05-07","SIR":1.4,"SIRD":1.4,"SEIR":2.0},{"d":"2021-05-10","SIR":1.3,"SIRD":1.3,"SEIR":1.6},{"d":"2021-05-13","SIR":1.2,"SIRD":1.2,"SEIR":1.6},{"d":"2021-05-15","SIR":1.1,"SIRD":1.1,"SEIR":1.2}],
"wc":[
{"d":"2021-02-03","Confirmed":217,"Recovered":328,"Death":6.9},{"d":"2021-02-06","Confirmed":200,"Recovered":302,"Death":2.4},{"d":"2021-02-09","Confirmed":163,"Recovered":302,"Death":3.6},{"d":"2021-02-12","Confirmed":200,"Recovered":290,"Death":5.0},{"d":"2021-02-15","Confirmed":185,"Recovered":279,"Death":1.45},{"d":"2021-02-18","Confirmed":145,"Recovered":257,"Death":2.0},{"d":"2021-02-21","Confirmed":185,"Recovered":236,"Death":3.0},{"d":"2021-02-24","Confirmed":217,"Recovered":227,"Death":2.4},{"d":"2021-02-27","Confirmed":217,"Recovered":217,"Death":3.5},{"d":"2021-03-02","Confirmed":217,"Recovered":236,"Death":1.8},{"d":"2021-03-05","Confirmed":245,"Recovered":245,"Death":1.8},{"d":"2021-03-08","Confirmed":245,"Recovered":257,"Death":1.6},{"d":"2021-03-11","Confirmed":279,"Recovered":279,"Death":2.2},{"d":"2021-03-14","Confirmed":302,"Recovered":279,"Death":1.6},{"d":"2021-03-17","Confirmed":279,"Recovered":302,"Death":3.0},{"d":"2021-03-20","Confirmed":328,"Recovered":315,"Death":1.45},{"d":"2021-03-23","Confirmed":372,"Recovered":342,"Death":2.4},{"d":"2021-03-26","Confirmed":495,"Recovered":403,"Death":3.0},{"d":"2021-03-29","Confirmed":779,"Recovered":458,"Death":1.8},{"d":"2021-04-01","Confirmed":845,"Recovered":583,"Death":2.4},{"d":"2021-04-04","Confirmed":1700,"Recovered":661,"Death":4.5},{"d":"2021-04-07","Confirmed":2170,"Recovered":845,"Death":8},{"d":"2021-04-10","Confirmed":3560,"Recovered":1275,"Death":11.3},{"d":"2021-04-13","Confirmed":5370,"Recovered":2360,"Death":18},{"d":"2021-04-16","Confirmed":7470,"Recovered":3280,"Death":27},{"d":"2021-04-19","Confirmed":9960,"Recovered":4370,"Death":35},{"d":"2021-04-22","Confirmed":13300,"Recovered":6610,"Death":47},{"d":"2021-04-25","Confirmed":17000,"Recovered":9960,"Death":60},{"d":"2021-04-28","Confirmed":18500,"Recovered":13300,"Death":80},{"d":"2021-05-01","Confirmed":20000,"Recovered":17000,"Death":96},{"d":"2021-05-04","Confirmed":21000,"Recovered":18500,"Death":106},{"d":"2021-05-07","Confirmed":21700,"Recovered":20000,"Death":122},{"d":"2021-05-10","Confirmed":21700,"Recovered":20000,"Death":133},{"d":"2021-05-13","Confirmed":23600,"Recovered":21700,"Death":144},{"d":"2021-05-16","Confirmed":23600,"Recovered":21700,"Death":144}],
"wb":[
{"d":"2021-02-03","SIR":0.3,"SIRD":0.3,"SEIR":0.4},{"d":"2021-02-06","SIR":0.3,"SIRD":0.3,"SEIR":0.4},{"d":"2021-02-09","SIR":0.3,"SIRD":0.3,"SEIR":0.4},{"d":"2021-02-12","SIR":0.3,"SIRD":0.3,"SEIR":0.4},{"d":"2021-02-15","SIR":0.3,"SIRD":0.3,"SEIR":0.4},{"d":"2021-02-18","SIR":0.3,"SIRD":0.3,"SEIR":0.4},{"d":"2021-02-21","SIR":0.3,"SIRD":0.3,"SEIR":0.4},{"d":"2021-02-24","SIR":0.3,"SIRD":0.3,"SEIR":0.4},{"d":"2021-02-27","SIR":0.3,"SIRD":0.3,"SEIR":0.4},{"d":"2021-03-02","SIR":0.3,"SIRD":0.3,"SEIR":0.4},{"d":"2021-03-05","SIR":0.3,"SIRD":0.3,"SEIR":0.4},{"d":"2021-03-08","SIR":0.3,"SIRD":0.3,"SEIR":0.4},{"d":"2021-03-11","SIR":0.3,"SIRD":0.3,"SEIR":0.4},{"d":"2021-03-14","SIR":0.3,"SIRD":0.3,"SEIR":0.4},{"d":"2021-03-17","SIR":0.3,"SIRD":0.3,"SEIR":0.4},{"d":"2021-03-20","SIR":0.3,"SIRD":0.3,"SEIR":0.4},{"d":"2021-03-23","SIR":0.3,"SIRD":0.3,"SEIR":0.4},{"d":"2021-03-26","SIR":0.3,"SIRD":0.3,"SEIR":0.4},{"d":"2021-03-29","SIR":0.3,"SIRD":0.3,"SEIR":0.4},
{"d":"2021-03-30","SIR":0.6,"SIRD":0.6,"SEIR":1.0},{"d":"2021-03-31","SIR":1.5,"SIRD":1.5,"SEIR":7},{"d":"2021-04-01","SIR":2.2,"SIRD":2.2,"SEIR":30.3},{"d":"2021-04-02","SIR":2.6,"SIRD":2.6,"SEIR":32.3},{"d":"2021-04-03","SIR":2.2,"SIRD":2.2,"SEIR":28},{"d":"2021-04-04","SIR":1.2,"SIRD":1.2,"SEIR":3},{"d":"2021-04-05","SIR":0.8,"SIRD":0.8,"SEIR":1.2},{"d":"2021-04-07","SIR":0.5,"SIRD":0.5,"SEIR":0.8},
{"d":"2021-04-10","SIR":0.4,"SIRD":0.4,"SEIR":0.6},{"d":"2021-04-13","SIR":0.4,"SIRD":0.4,"SEIR":0.6},{"d":"2021-04-16","SIR":0.4,"SIRD":0.4,"SEIR":0.6},{"d":"2021-04-19","SIR":0.4,"SIRD":0.4,"SEIR":0.6},{"d":"2021-04-22","SIR":0.4,"SIRD":0.4,"SEIR":0.6},{"d":"2021-04-25","SIR":0.4,"SIRD":0.4,"SEIR":0.6},{"d":"2021-04-28","SIR":0.4,"SIRD":0.4,"SEIR":0.6},{"d":"2021-05-01","SIR":0.4,"SIRD":0.4,"SEIR":0.6},{"d":"2021-05-04","SIR":0.4,"SIRD":0.4,"SEIR":0.6},{"d":"2021-05-07","SIR":0.4,"SIRD":0.4,"SEIR":0.6},{"d":"2021-05-10","SIR":0.4,"SIRD":0.4,"SEIR":0.6},{"d":"2021-05-13","SIR":0.4,"SIRD":0.4,"SEIR":0.6},{"d":"2021-05-16","SIR":0.4,"SIRD":0.4,"SEIR":0.3}],
"wg":[
{"d":"2021-02-03","SIR":0,"SIRD":0,"SEIR":0},{"d":"2021-02-06","SIR":0,"SIRD":0,"SEIR":0},{"d":"2021-02-09","SIR":0,"SIRD":0,"SEIR":0},{"d":"2021-02-12","SIR":0,"SIRD":0,"SEIR":0},{"d":"2021-02-15","SIR":0,"SIRD":0,"SEIR":0},{"d":"2021-02-18","SIR":0,"SIRD":0,"SEIR":0},{"d":"2021-02-21","SIR":0,"SIRD":0,"SEIR":0},{"d":"2021-02-24","SIR":0,"SIRD":0,"SEIR":0},{"d":"2021-02-27","SIR":0,"SIRD":0,"SEIR":0},{"d":"2021-03-02","SIR":0,"SIRD":0,"SEIR":0},{"d":"2021-03-05","SIR":0,"SIRD":0,"SEIR":0},{"d":"2021-03-08","SIR":0,"SIRD":0,"SEIR":0},{"d":"2021-03-11","SIR":0,"SIRD":0,"SEIR":0},{"d":"2021-03-14","SIR":0,"SIRD":0,"SEIR":0},{"d":"2021-03-17","SIR":0,"SIRD":0,"SEIR":0},{"d":"2021-03-20","SIR":0,"SIRD":0,"SEIR":0},{"d":"2021-03-23","SIR":0,"SIRD":0,"SEIR":0},{"d":"2021-03-26","SIR":0,"SIRD":0,"SEIR":0},{"d":"2021-03-29","SIR":0,"SIRD":0,"SEIR":0},{"d":"2021-03-30","SIR":0,"SIRD":0,"SEIR":0},
{"d":"2021-03-31","SIR":0.76,"SIRD":0.75,"SEIR":0.78},{"d":"2021-04-01","SIR":0.95,"SIRD":0.94,"SEIR":1.0},{"d":"2021-04-02","SIR":1.04,"SIRD":1.03,"SEIR":1.1},{"d":"2021-04-03","SIR":0.34,"SIRD":0.33,"SEIR":0.35},{"d":"2021-04-04","SIR":0.2,"SIRD":0.2,"SEIR":0.19},{"d":"2021-04-05","SIR":0.14,"SIRD":0.14,"SEIR":0.13},{"d":"2021-04-07","SIR":0.11,"SIRD":0.11,"SEIR":0.11},{"d":"2021-04-10","SIR":0.09,"SIRD":0.09,"SEIR":0.1},{"d":"2021-04-13","SIR":0.09,"SIRD":0.09,"SEIR":0.1},{"d":"2021-04-16","SIR":0.095,"SIRD":0.095,"SEIR":0.095},{"d":"2021-04-19","SIR":0.1,"SIRD":0.1,"SEIR":0.1},{"d":"2021-04-22","SIR":0.11,"SIRD":0.11,"SEIR":0.11},{"d":"2021-04-25","SIR":0.125,"SIRD":0.125,"SEIR":0.12},{"d":"2021-04-28","SIR":0.14,"SIRD":0.14,"SEIR":0.14},{"d":"2021-05-01","SIR":0.15,"SIRD":0.15,"SEIR":0.15},{"d":"2021-05-04","SIR":0.157,"SIRD":0.157,"SEIR":0.155},{"d":"2021-05-07","SIR":0.163,"SIRD":0.163,"SEIR":0.16},{"d":"2021-05-10","SIR":0.166,"SIRD":0.166,"SEIR":0.163},{"d":"2021-05-13","SIR":0.165,"SIRD":0.165,"SEIR":0.16},{"d":"2021-05-15","SIR":0.16,"SIRD":0.16,"SEIR":0.14},{"d":"2021-05-16","SIR":0.157,"SIRD":0.157,"SEIR":0.055}],
"wr":[
{"d":"2021-02-03","SIR":0.6,"SIRD":0.6,"SEIR":4.55},{"d":"2021-02-04","SIR":0.6,"SIRD":0.6,"SEIR":2.95},{"d":"2021-02-06","SIR":0.6,"SIRD":0.6,"SEIR":1.85},{"d":"2021-02-08","SIR":0.6,"SIRD":0.6,"SEIR":2.4},{"d":"2021-02-11","SIR":0.6,"SIRD":0.6,"SEIR":1.6},{"d":"2021-02-13","SIR":0.6,"SIRD":0.6,"SEIR":0.9},{"d":"2021-02-15","SIR":0.7,"SIRD":0.7,"SEIR":1.6},{"d":"2021-02-17","SIR":0.7,"SIRD":0.7,"SEIR":1.75},{"d":"2021-02-19","SIR":0.7,"SIRD":0.7,"SEIR":0.9},{"d":"2021-02-21","SIR":0.8,"SIRD":0.8,"SEIR":1.6},{"d":"2021-02-24","SIR":0.8,"SIRD":0.8,"SEIR":0.9},{"d":"2021-02-27","SIR":0.8,"SIRD":0.8,"SEIR":1.1},{"d":"2021-03-02","SIR":0.8,"SIRD":0.8,"SEIR":1.0},{"d":"2021-03-05","SIR":0.9,"SIRD":0.9,"SEIR":1.2},{"d":"2021-03-08","SIR":0.9,"SIRD":0.9,"SEIR":1.0},{"d":"2021-03-11","SIR":1.0,"SIRD":1.0,"SEIR":1.1},{"d":"2021-03-14","SIR":1.0,"SIRD":1.0,"SEIR":1.0},{"d":"2021-03-17","SIR":1.1,"SIRD":1.1,"SEIR":1.2},{"d":"2021-03-20","SIR":1.2,"SIRD":1.2,"SEIR":1.2},{"d":"2021-03-23","SIR":1.3,"SIRD":1.3,"SEIR":1.4},{"d":"2021-03-24","SIR":1.4,"SIRD":1.4,"SEIR":2.6},{"d":"2021-03-26","SIR":1.5,"SIRD":1.5,"SEIR":1.85},{"d":"2021-03-27","SIR":1.5,"SIRD":1.5,"SEIR":0},{"d":"2021-03-29","SIR":1.5,"SIRD":1.5,"SEIR":1.85},{"d":"2021-03-30","SIR":1.5,"SIRD":1.5,"SEIR":2.1},{"d":"2021-03-31","SIR":1.6,"SIRD":1.6,"SEIR":12.1},{"d":"2021-04-01","SIR":2.0,"SIRD":2.0,"SEIR":14.7},{"d":"2021-04-02","SIR":2.8,"SIRD":2.8,"SEIR":17.3},{"d":"2021-04-03","SIR":3.0,"SIRD":3.0,"SEIR":8.8},{"d":"2021-04-04","SIR":3.2,"SIRD":3.2,"SEIR":6.6},{"d":"2021-04-05","SIR":3.2,"SIRD":3.2,"SEIR":5.9},{"d":"2021-04-06","SIR":3.1,"SIRD":3.1,"SEIR":7.0},{"d":"2021-04-07","SIR":3.0,"SIRD":3.0,"SEIR":7.5},{"d":"2021-04-08","SIR":3.0,"SIRD":3.0,"SEIR":5.5},{"d":"2021-04-10","SIR":2.95,"SIRD":2.95,"SEIR":3.3},{"d":"2021-04-11","SIR":2.9,"SIRD":2.9,"SEIR":4.0},{"d":"2021-04-13","SIR":2.6,"SIRD":2.6,"SEIR":5.1},{"d":"2021-04-15","SIR":2.5,"SIRD":2.5,"SEIR":4.8},{"d":"2021-04-17","SIR":2.3,"SIRD":2.3,"SEIR":2.95},{"d":"2021-04-19","SIR":2.1,"SIRD":2.1,"SEIR":2.95},{"d":"2021-04-20","SIR":2.0,"SIRD":2.0,"SEIR":3.3},{"d":"2021-04-22","SIR":1.8,"SIRD":1.8,"SEIR":2.6},{"d":"2021-04-24","SIR":1.7,"SIRD":1.7,"SEIR":2.6},{"d":"2021-04-26","SIR":1.5,"SIRD":1.5,"SEIR":1.6},{"d":"2021-04-28","SIR":1.25,"SIRD":1.25,"SEIR":1.1},{"d":"2021-05-01","SIR":1.1,"SIRD":1.1,"SEIR":0.9},{"d":"2021-05-04","SIR":1.0,"SIRD":1.0,"SEIR":0.9},{"d":"2021-05-07","SIR":1.0,"SIRD":1.0,"SEIR":0.9},{"d":"2021-05-10","SIR":1.0,"SIRD":1.0,"SEIR":0.9},{"d":"2021-05-13","SIR":1.0,"SIRD":1.0,"SEIR":0.9},{"d":"2021-05-16","SIR":1.1,"SIRD":1.1,"SEIR":0.4}]
},
"concat":[
  {"width":280,"height":87,"title":"Kerala","layer":[
   {"data":{"name":"kc"},"transform":[{"fold":["Confirmed","Recovered","Death"],"as":["s","v"]}],
    "encoding":{"x":{"field":"d","type":"temporal","scale":{"type":"utc","domain":[{"year":2021,"month":1,"date":28,"hours":10,"utc":true},{"year":2021,"month":5,"date":19,"hours":12,"utc":true}]},"axis":null},
     "y":{"field":"v","type":"quantitative","scale":{"type":"log","domain":[7.2,66000],"nice":false},"axis":{"values":[100,10000],"labelExpr":"datum.value==100?'10²':'10⁴'","title":"Count"}},
     "color":{"field":"s","type":"nominal","scale":{"domain":["Confirmed","Recovered","Death"],"range":["#1f77b4","#ff7f0e","#2ca02c"]},"legend":{"title":null,"orient":"top-left","encode":{"symbols":{"update":{"shape":{"value":"M-3.2,0H3.2M0.45,0A0.45,0.45,0,1,1,-0.45,0A0.45,0.45,0,1,1,0.45,0Z"},"fill":{"signal":"datum.value==='Confirmed'?'#1f77b4':datum.value==='Recovered'?'#ff7f0e':'#2ca02c'"},"stroke":{"signal":"datum.value==='Confirmed'?'#1f77b4':datum.value==='Recovered'?'#ff7f0e':'#2ca02c'"},"strokeWidth":{"value":1},"opacity":{"value":1}}}}}}},
    "layer":[{"mark":{"type":"line","strokeWidth":1.1}},{"mark":{"type":"point","filled":true,"opacity":1,"size":30,"shape":"M0.35,0A0.35,0.35,0,1,1,-0.35,0A0.35,0.35,0,1,1,0.35,0Z"}}]},
   {"data":{"name":"e1"},"mark":{"type":"rule","strokeWidth":1.2},"encoding":{"x":{"field":"d","type":"temporal","scale":{"type":"utc","domain":[{"year":2021,"month":1,"date":28,"hours":10,"utc":true},{"year":2021,"month":5,"date":19,"hours":12,"utc":true}]},"axis":null},"stroke":{"field":"k","type":"nominal","scale":{"domain":["ann","poll","blue","res"],"range":["#6b8e8e","#b22222","#1f1fa0","#111111"]},"legend":null},"strokeDash":{"field":"k","type":"nominal","scale":{"domain":["ann","poll","blue","res"],"range":[[1.5,2],[3.5,2],[1,0],[1,0]]},"legend":null}}}
  ]},
  {"width":280,"height":87,"title":"Tamil Nadu","layer":[
   {"data":{"name":"tc"},"transform":[{"fold":["Confirmed","Recovered","Death"],"as":["s","v"]}],
    "encoding":{"x":{"field":"d","type":"temporal","scale":{"type":"utc","domain":[{"year":2021,"month":1,"date":28,"hours":16,"utc":true},{"year":2021,"month":5,"date":19,"hours":23,"utc":true}]},"axis":null},
     "y":{"field":"v","type":"quantitative","scale":{"type":"log","domain":[1.38,57000],"nice":false},"axis":{"values":[100,10000],"labelExpr":"datum.value==100?'10²':'10⁴'","title":"Count"}},
     "color":{"field":"s","type":"nominal","scale":{"domain":["Confirmed","Recovered","Death"],"range":["#1f77b4","#ff7f0e","#2ca02c"]},"legend":{"title":null,"orient":"top-left","encode":{"symbols":{"update":{"shape":{"value":"M-3.2,0H3.2M0.45,0A0.45,0.45,0,1,1,-0.45,0A0.45,0.45,0,1,1,0.45,0Z"},"fill":{"signal":"datum.value==='Confirmed'?'#1f77b4':datum.value==='Recovered'?'#ff7f0e':'#2ca02c'"},"stroke":{"signal":"datum.value==='Confirmed'?'#1f77b4':datum.value==='Recovered'?'#ff7f0e':'#2ca02c'"},"strokeWidth":{"value":1},"opacity":{"value":1}}}}}}},
    "layer":[{"mark":{"type":"line","strokeWidth":1.1}},{"mark":{"type":"point","filled":true,"opacity":1,"size":30,"shape":"M0.35,0A0.35,0.35,0,1,1,-0.35,0A0.35,0.35,0,1,1,0.35,0Z"}}]},
   {"data":{"name":"e1"},"mark":{"type":"rule","strokeWidth":1.2},"encoding":{"x":{"field":"d","type":"temporal","scale":{"type":"utc","domain":[{"year":2021,"month":1,"date":28,"hours":16,"utc":true},{"year":2021,"month":5,"date":19,"hours":23,"utc":true}]},"axis":null},"stroke":{"field":"k","type":"nominal","scale":{"domain":["ann","poll","blue","res"],"range":["#6b8e8e","#b22222","#1f1fa0","#111111"]},"legend":null},"strokeDash":{"field":"k","type":"nominal","scale":{"domain":["ann","poll","blue","res"],"range":[[1.5,2],[3.5,2],[1,0],[1,0]]},"legend":null}}}
  ]},
  {"width":280,"height":87,"layer":[
   {"data":{"values":[{}]},"mark":{"type":"rule","color":"#444444","strokeDash":[3,2],"strokeWidth":0.8},"encoding":{"y":{"datum":0}}},
   {"data":{"name":"kb"},"transform":[{"fold":["SIR","SIRD","SEIR"],"as":["s","v"]}],
    "encoding":{"x":{"field":"d","type":"temporal","scale":{"type":"utc","domain":[{"year":2021,"month":1,"date":28,"hours":10,"utc":true},{"year":2021,"month":5,"date":19,"hours":12,"utc":true}]},"axis":null},
     "y":{"field":"v","type":"quantitative","scale":{"domain":[-3.6,75.5],"nice":false,"zero":false},"axis":{"values":[0,20,40,60],"title":"β(t)"}},
     "color":{"field":"s","type":"nominal","scale":{"domain":["SIR","SIRD","SEIR"],"range":["#000000","#1f77b4","#ff7f0e"]},"legend":{"title":null,"orient":"top-right","encode":{"symbols":{"update":{"shape":{"signal":"datum.value==='SIR'?'M-3.2,0H3.2M0,-1.6L0.38,-0.52L1.52,-0.49L0.61,0.2L0.94,1.29L0,0.64L-0.94,1.29L-0.61,0.2L-1.52,-0.49L-0.38,-0.52Z':datum.value==='SIRD'?'M-3.2,0H3.2M0,-0.9L0.8,0.5L-0.8,0.5Z':'M-3.2,0H3.2M0.45,0A0.45,0.45,0,1,1,-0.45,0A0.45,0.45,0,1,1,0.45,0Z'"},"fill":{"signal":"datum.value==='SIR'?'#000000':datum.value==='SIRD'?'#1f77b4':'#ff7f0e'"},"stroke":{"signal":"datum.value==='SIR'?'#000000':datum.value==='SIRD'?'#1f77b4':'#ff7f0e'"},"strokeWidth":{"value":1},"opacity":{"value":1}}}}}}},
    "layer":[{"mark":{"type":"line","strokeWidth":1.1}},{"mark":{"type":"point","filled":true,"opacity":1,"size":30},"encoding":{"shape":{"field":"s","type":"nominal","scale":{"domain":["SIR","SIRD","SEIR"],"range":["M0,-1L0.235,-0.324L0.951,-0.309L0.38,0.124L0.588,0.809L0,0.4L-0.588,0.809L-0.38,0.124L-0.951,-0.309L-0.235,-0.324Z","M0,-0.6L0.55,0.35L-0.55,0.35Z","M0.35,0A0.35,0.35,0,1,1,-0.35,0A0.35,0.35,0,1,1,0.35,0Z"]},"legend":null}}}]},
   {"data":{"name":"e1"},"mark":{"type":"rule","strokeWidth":1.2},"encoding":{"x":{"field":"d","type":"temporal","scale":{"type":"utc","domain":[{"year":2021,"month":1,"date":28,"hours":10,"utc":true},{"year":2021,"month":5,"date":19,"hours":12,"utc":true}]},"axis":null},"stroke":{"field":"k","type":"nominal","scale":{"domain":["ann","poll","blue","res"],"range":["#6b8e8e","#b22222","#1f1fa0","#111111"]},"legend":null},"strokeDash":{"field":"k","type":"nominal","scale":{"domain":["ann","poll","blue","res"],"range":[[1.5,2],[3.5,2],[1,0],[1,0]]},"legend":null}}}
  ]},
  {"width":280,"height":87,"layer":[
   {"data":{"values":[{}]},"mark":{"type":"rule","color":"#444444","strokeDash":[3,2],"strokeWidth":0.8},"encoding":{"y":{"datum":0}}},
   {"data":{"name":"tb"},"transform":[{"fold":["SIR","SIRD","SEIR"],"as":["s","v"]}],
    "encoding":{"x":{"field":"d","type":"temporal","scale":{"type":"utc","domain":[{"year":2021,"month":1,"date":28,"hours":16,"utc":true},{"year":2021,"month":5,"date":19,"hours":23,"utc":true}]},"axis":null},
     "y":{"field":"v","type":"quantitative","scale":{"domain":[-3.6,74],"nice":false,"zero":false},"axis":{"values":[0,20,40,60],"title":"β(t)"}},
     "color":{"field":"s","type":"nominal","scale":{"domain":["SIR","SIRD","SEIR"],"range":["#000000","#1f77b4","#ff7f0e"]},"legend":{"title":null,"orient":"top-right","encode":{"symbols":{"update":{"shape":{"signal":"datum.value==='SIR'?'M-3.2,0H3.2M0,-1.6L0.38,-0.52L1.52,-0.49L0.61,0.2L0.94,1.29L0,0.64L-0.94,1.29L-0.61,0.2L-1.52,-0.49L-0.38,-0.52Z':datum.value==='SIRD'?'M-3.2,0H3.2M0,-0.9L0.8,0.5L-0.8,0.5Z':'M-3.2,0H3.2M0.45,0A0.45,0.45,0,1,1,-0.45,0A0.45,0.45,0,1,1,0.45,0Z'"},"fill":{"signal":"datum.value==='SIR'?'#000000':datum.value==='SIRD'?'#1f77b4':'#ff7f0e'"},"stroke":{"signal":"datum.value==='SIR'?'#000000':datum.value==='SIRD'?'#1f77b4':'#ff7f0e'"},"strokeWidth":{"value":1},"opacity":{"value":1}}}}}}},
    "layer":[{"mark":{"type":"line","strokeWidth":1.1}},{"mark":{"type":"point","filled":true,"opacity":1,"size":30},"encoding":{"shape":{"field":"s","type":"nominal","scale":{"domain":["SIR","SIRD","SEIR"],"range":["M0,-1L0.235,-0.324L0.951,-0.309L0.38,0.124L0.588,0.809L0,0.4L-0.588,0.809L-0.38,0.124L-0.951,-0.309L-0.235,-0.324Z","M0,-0.6L0.55,0.35L-0.55,0.35Z","M0.35,0A0.35,0.35,0,1,1,-0.35,0A0.35,0.35,0,1,1,0.35,0Z"]},"legend":null}}}]},
   {"data":{"name":"e1"},"mark":{"type":"rule","strokeWidth":1.2},"encoding":{"x":{"field":"d","type":"temporal","scale":{"type":"utc","domain":[{"year":2021,"month":1,"date":28,"hours":16,"utc":true},{"year":2021,"month":5,"date":19,"hours":23,"utc":true}]},"axis":null},"stroke":{"field":"k","type":"nominal","scale":{"domain":["ann","poll","blue","res"],"range":["#6b8e8e","#b22222","#1f1fa0","#111111"]},"legend":null},"strokeDash":{"field":"k","type":"nominal","scale":{"domain":["ann","poll","blue","res"],"range":[[1.5,2],[3.5,2],[1,0],[1,0]]},"legend":null}}}
  ]},
  {"width":280,"height":87,"layer":[
   {"data":{"values":[{}]},"mark":{"type":"rule","color":"#444444","strokeDash":[3,2],"strokeWidth":0.8},"encoding":{"y":{"datum":0}}},
   {"data":{"name":"kg"},"transform":[{"fold":["SIR","SIRD","SEIR"],"as":["s","v"]}],
    "encoding":{"x":{"field":"d","type":"temporal","scale":{"type":"utc","domain":[{"year":2021,"month":1,"date":28,"hours":10,"utc":true},{"year":2021,"month":5,"date":19,"hours":12,"utc":true}]},"axis":null},
     "y":{"field":"v","type":"quantitative","scale":{"domain":[-0.014,0.286],"nice":false,"zero":false},"axis":{"values":[0,0.1,0.2],"format":".1f","title":"γ(t)"}},
     "color":{"field":"s","type":"nominal","scale":{"domain":["SIR","SIRD","SEIR"],"range":["#000000","#1f77b4","#ff7f0e"]},"legend":{"title":null,"orient":"top-right","encode":{"symbols":{"update":{"shape":{"signal":"datum.value==='SIR'?'M-3.2,0H3.2M0,-1.6L0.38,-0.52L1.52,-0.49L0.61,0.2L0.94,1.29L0,0.64L-0.94,1.29L-0.61,0.2L-1.52,-0.49L-0.38,-0.52Z':datum.value==='SIRD'?'M-3.2,0H3.2M0,-0.9L0.8,0.5L-0.8,0.5Z':'M-3.2,0H3.2M0.45,0A0.45,0.45,0,1,1,-0.45,0A0.45,0.45,0,1,1,0.45,0Z'"},"fill":{"signal":"datum.value==='SIR'?'#000000':datum.value==='SIRD'?'#1f77b4':'#ff7f0e'"},"stroke":{"signal":"datum.value==='SIR'?'#000000':datum.value==='SIRD'?'#1f77b4':'#ff7f0e'"},"strokeWidth":{"value":1},"opacity":{"value":1}}}}}}},
    "layer":[{"mark":{"type":"line","strokeWidth":1.1}},{"mark":{"type":"point","filled":true,"opacity":1,"size":30},"encoding":{"shape":{"field":"s","type":"nominal","scale":{"domain":["SIR","SIRD","SEIR"],"range":["M0,-1L0.235,-0.324L0.951,-0.309L0.38,0.124L0.588,0.809L0,0.4L-0.588,0.809L-0.38,0.124L-0.951,-0.309L-0.235,-0.324Z","M0,-0.6L0.55,0.35L-0.55,0.35Z","M0.35,0A0.35,0.35,0,1,1,-0.35,0A0.35,0.35,0,1,1,0.35,0Z"]},"legend":null}}}]},
   {"data":{"name":"e1"},"mark":{"type":"rule","strokeWidth":1.2},"encoding":{"x":{"field":"d","type":"temporal","scale":{"type":"utc","domain":[{"year":2021,"month":1,"date":28,"hours":10,"utc":true},{"year":2021,"month":5,"date":19,"hours":12,"utc":true}]},"axis":null},"stroke":{"field":"k","type":"nominal","scale":{"domain":["ann","poll","blue","res"],"range":["#6b8e8e","#b22222","#1f1fa0","#111111"]},"legend":null},"strokeDash":{"field":"k","type":"nominal","scale":{"domain":["ann","poll","blue","res"],"range":[[1.5,2],[3.5,2],[1,0],[1,0]]},"legend":null}}}
  ]},
  {"width":280,"height":87,"layer":[
   {"data":{"values":[{}]},"mark":{"type":"rule","color":"#444444","strokeDash":[3,2],"strokeWidth":0.8},"encoding":{"y":{"datum":0}}},
   {"data":{"name":"tg"},"transform":[{"fold":["SIR","SIRD","SEIR"],"as":["s","v"]}],
    "encoding":{"x":{"field":"d","type":"temporal","scale":{"type":"utc","domain":[{"year":2021,"month":1,"date":28,"hours":16,"utc":true},{"year":2021,"month":5,"date":19,"hours":23,"utc":true}]},"axis":null},
     "y":{"field":"v","type":"quantitative","scale":{"domain":[-0.13,2.74],"nice":false,"zero":false},"axis":{"values":[0,1,2],"title":"γ(t)"}},
     "color":{"field":"s","type":"nominal","scale":{"domain":["SIR","SIRD","SEIR"],"range":["#000000","#1f77b4","#ff7f0e"]},"legend":{"title":null,"orient":"top-right","encode":{"symbols":{"update":{"shape":{"signal":"datum.value==='SIR'?'M-3.2,0H3.2M0,-1.6L0.38,-0.52L1.52,-0.49L0.61,0.2L0.94,1.29L0,0.64L-0.94,1.29L-0.61,0.2L-1.52,-0.49L-0.38,-0.52Z':datum.value==='SIRD'?'M-3.2,0H3.2M0,-0.9L0.8,0.5L-0.8,0.5Z':'M-3.2,0H3.2M0.45,0A0.45,0.45,0,1,1,-0.45,0A0.45,0.45,0,1,1,0.45,0Z'"},"fill":{"signal":"datum.value==='SIR'?'#000000':datum.value==='SIRD'?'#1f77b4':'#ff7f0e'"},"stroke":{"signal":"datum.value==='SIR'?'#000000':datum.value==='SIRD'?'#1f77b4':'#ff7f0e'"},"strokeWidth":{"value":1},"opacity":{"value":1}}}}}}},
    "layer":[{"mark":{"type":"line","strokeWidth":1.1}},{"mark":{"type":"point","filled":true,"opacity":1,"size":30},"encoding":{"shape":{"field":"s","type":"nominal","scale":{"domain":["SIR","SIRD","SEIR"],"range":["M0,-1L0.235,-0.324L0.951,-0.309L0.38,0.124L0.588,0.809L0,0.4L-0.588,0.809L-0.38,0.124L-0.951,-0.309L-0.235,-0.324Z","M0,-0.6L0.55,0.35L-0.55,0.35Z","M0.35,0A0.35,0.35,0,1,1,-0.35,0A0.35,0.35,0,1,1,0.35,0Z"]},"legend":null}}}]},
   {"data":{"name":"e1"},"mark":{"type":"rule","strokeWidth":1.2},"encoding":{"x":{"field":"d","type":"temporal","scale":{"type":"utc","domain":[{"year":2021,"month":1,"date":28,"hours":16,"utc":true},{"year":2021,"month":5,"date":19,"hours":23,"utc":true}]},"axis":null},"stroke":{"field":"k","type":"nominal","scale":{"domain":["ann","poll","blue","res"],"range":["#6b8e8e","#b22222","#1f1fa0","#111111"]},"legend":null},"strokeDash":{"field":"k","type":"nominal","scale":{"domain":["ann","poll","blue","res"],"range":[[1.5,2],[3.5,2],[1,0],[1,0]]},"legend":null}}}
  ]},
  {"width":280,"height":87,"layer":[
   {"data":{"values":[{}]},"mark":{"type":"rule","color":"#444444","strokeDash":[3,2],"strokeWidth":0.8},"encoding":{"y":{"datum":0}}},
   {"data":{"name":"kr"},"transform":[{"fold":["SIR","SIRD","SEIR"],"as":["s","v"]}],
    "encoding":{"x":{"field":"d","type":"temporal","scale":{"type":"utc","domain":[{"year":2021,"month":1,"date":28,"hours":10,"utc":true},{"year":2021,"month":5,"date":19,"hours":12,"utc":true}]},"axis":{"values":[{"year":2021,"month":2,"date":1,"utc":true},{"year":2021,"month":2,"date":21,"utc":true},{"year":2021,"month":3,"date":13,"utc":true},{"year":2021,"month":4,"date":2,"utc":true},{"year":2021,"month":4,"date":22,"utc":true},{"year":2021,"month":5,"date":12,"utc":true}],"format":"%Y-%m-%d","labelAngle":-45,"labelAlign":"right","labelBaseline":"top","title":"Date"}},
     "y":{"field":"v","type":"quantitative","scale":{"domain":[-0.3,13.4],"nice":false,"zero":false},"axis":{"values":[0,5,10],"title":"ℝ(t)"}},
     "color":{"field":"s","type":"nominal","scale":{"domain":["SIR","SIRD","SEIR"],"range":["#000000","#1f77b4","#ff7f0e"]},"legend":{"title":null,"orient":"top-right","encode":{"symbols":{"update":{"shape":{"signal":"datum.value==='SIR'?'M-3.2,0H3.2M0,-1.6L0.38,-0.52L1.52,-0.49L0.61,0.2L0.94,1.29L0,0.64L-0.94,1.29L-0.61,0.2L-1.52,-0.49L-0.38,-0.52Z':datum.value==='SIRD'?'M-3.2,0H3.2M0,-0.9L0.8,0.5L-0.8,0.5Z':'M-3.2,0H3.2M0.45,0A0.45,0.45,0,1,1,-0.45,0A0.45,0.45,0,1,1,0.45,0Z'"},"fill":{"signal":"datum.value==='SIR'?'#000000':datum.value==='SIRD'?'#1f77b4':'#ff7f0e'"},"stroke":{"signal":"datum.value==='SIR'?'#000000':datum.value==='SIRD'?'#1f77b4':'#ff7f0e'"},"strokeWidth":{"value":1},"opacity":{"value":1}}}}}}},
    "layer":[{"mark":{"type":"line","strokeWidth":1.1}},{"mark":{"type":"point","filled":true,"opacity":1,"size":30},"encoding":{"shape":{"field":"s","type":"nominal","scale":{"domain":["SIR","SIRD","SEIR"],"range":["M0,-1L0.235,-0.324L0.951,-0.309L0.38,0.124L0.588,0.809L0,0.4L-0.588,0.809L-0.38,0.124L-0.951,-0.309L-0.235,-0.324Z","M0,-0.6L0.55,0.35L-0.55,0.35Z","M0.35,0A0.35,0.35,0,1,1,-0.35,0A0.35,0.35,0,1,1,0.35,0Z"]},"legend":null}}}]},
   {"data":{"name":"e1"},"mark":{"type":"rule","strokeWidth":1.2},"encoding":{"x":{"field":"d","type":"temporal","scale":{"type":"utc","domain":[{"year":2021,"month":1,"date":28,"hours":10,"utc":true},{"year":2021,"month":5,"date":19,"hours":12,"utc":true}]},"axis":{"values":[{"year":2021,"month":2,"date":1,"utc":true},{"year":2021,"month":2,"date":21,"utc":true},{"year":2021,"month":3,"date":13,"utc":true},{"year":2021,"month":4,"date":2,"utc":true},{"year":2021,"month":4,"date":22,"utc":true},{"year":2021,"month":5,"date":12,"utc":true}],"format":"%Y-%m-%d","labelAngle":-45,"labelAlign":"right","labelBaseline":"top","title":"Date"}},"stroke":{"field":"k","type":"nominal","scale":{"domain":["ann","poll","blue","res"],"range":["#6b8e8e","#b22222","#1f1fa0","#111111"]},"legend":null},"strokeDash":{"field":"k","type":"nominal","scale":{"domain":["ann","poll","blue","res"],"range":[[1.5,2],[3.5,2],[1,0],[1,0]]},"legend":null}}}
  ]},
  {"width":280,"height":87,"layer":[
   {"data":{"values":[{}]},"mark":{"type":"rule","color":"#444444","strokeDash":[3,2],"strokeWidth":0.8},"encoding":{"y":{"datum":0}}},
   {"data":{"name":"tr"},"transform":[{"fold":["SIR","SIRD","SEIR"],"as":["s","v"]}],
    "encoding":{"x":{"field":"d","type":"temporal","scale":{"type":"utc","domain":[{"year":2021,"month":1,"date":28,"hours":16,"utc":true},{"year":2021,"month":5,"date":19,"hours":23,"utc":true}]},"axis":{"values":[{"year":2021,"month":2,"date":1,"utc":true},{"year":2021,"month":2,"date":21,"utc":true},{"year":2021,"month":3,"date":13,"utc":true},{"year":2021,"month":4,"date":2,"utc":true},{"year":2021,"month":4,"date":22,"utc":true},{"year":2021,"month":5,"date":12,"utc":true}],"format":"%Y-%m-%d","labelAngle":-45,"labelAlign":"right","labelBaseline":"top","title":"Date"}},
     "y":{"field":"v","type":"quantitative","scale":{"domain":[-0.5,10.4],"nice":false,"zero":false},"axis":{"values":[0,5,10],"title":"ℝ(t)"}},
     "color":{"field":"s","type":"nominal","scale":{"domain":["SIR","SIRD","SEIR"],"range":["#000000","#1f77b4","#ff7f0e"]},"legend":{"title":null,"orient":"top-right","encode":{"symbols":{"update":{"shape":{"signal":"datum.value==='SIR'?'M-3.2,0H3.2M0,-1.6L0.38,-0.52L1.52,-0.49L0.61,0.2L0.94,1.29L0,0.64L-0.94,1.29L-0.61,0.2L-1.52,-0.49L-0.38,-0.52Z':datum.value==='SIRD'?'M-3.2,0H3.2M0,-0.9L0.8,0.5L-0.8,0.5Z':'M-3.2,0H3.2M0.45,0A0.45,0.45,0,1,1,-0.45,0A0.45,0.45,0,1,1,0.45,0Z'"},"fill":{"signal":"datum.value==='SIR'?'#000000':datum.value==='SIRD'?'#1f77b4':'#ff7f0e'"},"stroke":{"signal":"datum.value==='SIR'?'#000000':datum.value==='SIRD'?'#1f77b4':'#ff7f0e'"},"strokeWidth":{"value":1},"opacity":{"value":1}}}}}}},
    "layer":[{"mark":{"type":"line","strokeWidth":1.1}},{"mark":{"type":"point","filled":true,"opacity":1,"size":30},"encoding":{"shape":{"field":"s","type":"nominal","scale":{"domain":["SIR","SIRD","SEIR"],"range":["M0,-1L0.235,-0.324L0.951,-0.309L0.38,0.124L0.588,0.809L0,0.4L-0.588,0.809L-0.38,0.124L-0.951,-0.309L-0.235,-0.324Z","M0,-0.6L0.55,0.35L-0.55,0.35Z","M0.35,0A0.35,0.35,0,1,1,-0.35,0A0.35,0.35,0,1,1,0.35,0Z"]},"legend":null}}}]},
   {"data":{"name":"e1"},"mark":{"type":"rule","strokeWidth":1.2},"encoding":{"x":{"field":"d","type":"temporal","scale":{"type":"utc","domain":[{"year":2021,"month":1,"date":28,"hours":16,"utc":true},{"year":2021,"month":5,"date":19,"hours":23,"utc":true}]},"axis":{"values":[{"year":2021,"month":2,"date":1,"utc":true},{"year":2021,"month":2,"date":21,"utc":true},{"year":2021,"month":3,"date":13,"utc":true},{"year":2021,"month":4,"date":2,"utc":true},{"year":2021,"month":4,"date":22,"utc":true},{"year":2021,"month":5,"date":12,"utc":true}],"format":"%Y-%m-%d","labelAngle":-45,"labelAlign":"right","labelBaseline":"top","title":"Date"}},"stroke":{"field":"k","type":"nominal","scale":{"domain":["ann","poll","blue","res"],"range":["#6b8e8e","#b22222","#1f1fa0","#111111"]},"legend":null},"strokeDash":{"field":"k","type":"nominal","scale":{"domain":["ann","poll","blue","res"],"range":[[1.5,2],[3.5,2],[1,0],[1,0]]},"legend":null}}}
  ]},
  {"width":280,"height":115,"data":{"values":[{}]},"mark":{"type":"text","text":""},"encoding":{},"view":{"stroke":null}},
  {"width":280,"height":115,"data":{"values":[{}]},"mark":{"type":"text","text":""},"encoding":{},"view":{"stroke":null}},
  {"width":280,"height":87,"title":"Assam","layer":[
   {"data":{"name":"ac"},"transform":[{"fold":["Confirmed","Recovered","Death"],"as":["s","v"]},{"filter":"datum.v != null || datum.s == 'Death'"}],
    "encoding":{"x":{"field":"d","type":"temporal","scale":{"type":"utc","domain":[{"year":2021,"month":1,"date":28,"hours":10,"utc":true},{"year":2021,"month":5,"date":19,"hours":12,"utc":true}]},"axis":null},
     "y":{"field":"v","type":"quantitative","scale":{"type":"log","domain":[0.17,11000],"nice":false},"axis":{"values":[10,1000],"labelExpr":"datum.value==10?'10¹':'10³'","title":"Count"}},
     "color":{"field":"s","type":"nominal","scale":{"domain":["Confirmed","Recovered","Death"],"range":["#1f77b4","#ff7f0e","#2ca02c"]},"legend":{"title":null,"orient":"top-left","encode":{"symbols":{"update":{"shape":{"value":"M-3.2,0H3.2M0.45,0A0.45,0.45,0,1,1,-0.45,0A0.45,0.45,0,1,1,0.45,0Z"},"fill":{"signal":"datum.value==='Confirmed'?'#1f77b4':datum.value==='Recovered'?'#ff7f0e':'#2ca02c'"},"stroke":{"signal":"datum.value==='Confirmed'?'#1f77b4':datum.value==='Recovered'?'#ff7f0e':'#2ca02c'"},"strokeWidth":{"value":1},"opacity":{"value":1}}}}}}},
    "layer":[{"mark":{"type":"line","strokeWidth":1.1,"invalid":"break-paths-filter-domains"}},{"mark":{"type":"point","filled":true,"opacity":1,"size":30,"shape":"M0.35,0A0.35,0.35,0,1,1,-0.35,0A0.35,0.35,0,1,1,0.35,0Z"}}]},
   {"data":{"name":"e2"},"mark":{"type":"rule","strokeWidth":1.2},"encoding":{"x":{"field":"d","type":"temporal","scale":{"type":"utc","domain":[{"year":2021,"month":1,"date":28,"hours":10,"utc":true},{"year":2021,"month":5,"date":19,"hours":12,"utc":true}]},"axis":null},"stroke":{"field":"k","type":"nominal","scale":{"domain":["ann","poll","blue","res"],"range":["#6b8e8e","#b22222","#1f1fa0","#111111"]},"legend":null},"strokeDash":{"field":"k","type":"nominal","scale":{"domain":["ann","poll","blue","res"],"range":[[1.5,2],[3.5,2],[1,0],[1,0]]},"legend":null}}}
  ]},
  {"width":280,"height":87,"title":"West Bengal","layer":[
   {"data":{"name":"wc"},"transform":[{"fold":["Confirmed","Recovered","Death"],"as":["s","v"]}],
    "encoding":{"x":{"field":"d","type":"temporal","scale":{"type":"utc","domain":[{"year":2021,"month":1,"date":28,"hours":16,"utc":true},{"year":2021,"month":5,"date":19,"hours":23,"utc":true}]},"axis":null},
     "y":{"field":"v","type":"quantitative","scale":{"type":"log","domain":[0.8,40000],"nice":false},"axis":{"values":[10,1000],"labelExpr":"datum.value==10?'10¹':'10³'","title":"Count"}},
     "color":{"field":"s","type":"nominal","scale":{"domain":["Confirmed","Recovered","Death"],"range":["#1f77b4","#ff7f0e","#2ca02c"]},"legend":{"title":null,"orient":"top-left","encode":{"symbols":{"update":{"shape":{"value":"M-3.2,0H3.2M0.45,0A0.45,0.45,0,1,1,-0.45,0A0.45,0.45,0,1,1,0.45,0Z"},"fill":{"signal":"datum.value==='Confirmed'?'#1f77b4':datum.value==='Recovered'?'#ff7f0e':'#2ca02c'"},"stroke":{"signal":"datum.value==='Confirmed'?'#1f77b4':datum.value==='Recovered'?'#ff7f0e':'#2ca02c'"},"strokeWidth":{"value":1},"opacity":{"value":1}}}}}}},
    "layer":[{"mark":{"type":"line","strokeWidth":1.1}},{"mark":{"type":"point","filled":true,"opacity":1,"size":30,"shape":"M0.35,0A0.35,0.35,0,1,1,-0.35,0A0.35,0.35,0,1,1,0.35,0Z"}}]},
   {"data":{"name":"e3"},"mark":{"type":"rule","strokeWidth":1.2},"encoding":{"x":{"field":"d","type":"temporal","scale":{"type":"utc","domain":[{"year":2021,"month":1,"date":28,"hours":16,"utc":true},{"year":2021,"month":5,"date":19,"hours":23,"utc":true}]},"axis":null},"stroke":{"field":"k","type":"nominal","scale":{"domain":["ann","poll","blue","res"],"range":["#6b8e8e","#b22222","#1f1fa0","#111111"]},"legend":null},"strokeDash":{"field":"k","type":"nominal","scale":{"domain":["ann","poll","blue","res"],"range":[[1.5,2],[3.5,2],[1,0],[1,0]]},"legend":null}}}
  ]},
  {"width":280,"height":87,"layer":[
   {"data":{"values":[{}]},"mark":{"type":"rule","color":"#444444","strokeDash":[3,2],"strokeWidth":0.8},"encoding":{"y":{"datum":0}}},
   {"data":{"name":"ab"},"transform":[{"fold":["SIR","SIRD","SEIR"],"as":["s","v"]}],
    "encoding":{"x":{"field":"d","type":"temporal","scale":{"type":"utc","domain":[{"year":2021,"month":1,"date":28,"hours":10,"utc":true},{"year":2021,"month":5,"date":19,"hours":12,"utc":true}]},"axis":null},
     "y":{"field":"v","type":"quantitative","scale":{"domain":[-13,281],"nice":false,"zero":false},"axis":{"values":[0,100,200],"title":"β(t)"}},
     "color":{"field":"s","type":"nominal","scale":{"domain":["SIR","SIRD","SEIR"],"range":["#000000","#1f77b4","#ff7f0e"]},"legend":{"title":null,"orient":"top-right","encode":{"symbols":{"update":{"shape":{"signal":"datum.value==='SIR'?'M-3.2,0H3.2M0,-1.6L0.38,-0.52L1.52,-0.49L0.61,0.2L0.94,1.29L0,0.64L-0.94,1.29L-0.61,0.2L-1.52,-0.49L-0.38,-0.52Z':datum.value==='SIRD'?'M-3.2,0H3.2M0,-0.9L0.8,0.5L-0.8,0.5Z':'M-3.2,0H3.2M0.45,0A0.45,0.45,0,1,1,-0.45,0A0.45,0.45,0,1,1,0.45,0Z'"},"fill":{"signal":"datum.value==='SIR'?'#000000':datum.value==='SIRD'?'#1f77b4':'#ff7f0e'"},"stroke":{"signal":"datum.value==='SIR'?'#000000':datum.value==='SIRD'?'#1f77b4':'#ff7f0e'"},"strokeWidth":{"value":1},"opacity":{"value":1}}}}}}},
    "layer":[{"mark":{"type":"line","strokeWidth":1.1}},{"mark":{"type":"point","filled":true,"opacity":1,"size":30},"encoding":{"shape":{"field":"s","type":"nominal","scale":{"domain":["SIR","SIRD","SEIR"],"range":["M0,-1L0.235,-0.324L0.951,-0.309L0.38,0.124L0.588,0.809L0,0.4L-0.588,0.809L-0.38,0.124L-0.951,-0.309L-0.235,-0.324Z","M0,-0.6L0.55,0.35L-0.55,0.35Z","M0.35,0A0.35,0.35,0,1,1,-0.35,0A0.35,0.35,0,1,1,0.35,0Z"]},"legend":null}}}]},
   {"data":{"name":"e2"},"mark":{"type":"rule","strokeWidth":1.2},"encoding":{"x":{"field":"d","type":"temporal","scale":{"type":"utc","domain":[{"year":2021,"month":1,"date":28,"hours":10,"utc":true},{"year":2021,"month":5,"date":19,"hours":12,"utc":true}]},"axis":null},"stroke":{"field":"k","type":"nominal","scale":{"domain":["ann","poll","blue","res"],"range":["#6b8e8e","#b22222","#1f1fa0","#111111"]},"legend":null},"strokeDash":{"field":"k","type":"nominal","scale":{"domain":["ann","poll","blue","res"],"range":[[1.5,2],[3.5,2],[1,0],[1,0]]},"legend":null}}}
  ]},
  {"width":280,"height":87,"layer":[
   {"data":{"values":[{}]},"mark":{"type":"rule","color":"#444444","strokeDash":[3,2],"strokeWidth":0.8},"encoding":{"y":{"datum":0}}},
   {"data":{"name":"wb"},"transform":[{"fold":["SIR","SIRD","SEIR"],"as":["s","v"]}],
    "encoding":{"x":{"field":"d","type":"temporal","scale":{"type":"utc","domain":[{"year":2021,"month":1,"date":28,"hours":16,"utc":true},{"year":2021,"month":5,"date":19,"hours":23,"utc":true}]},"axis":null},
     "y":{"field":"v","type":"quantitative","scale":{"domain":[-1.5,34],"nice":false,"zero":false},"axis":{"values":[0,10,20,30],"title":"β(t)"}},
     "color":{"field":"s","type":"nominal","scale":{"domain":["SIR","SIRD","SEIR"],"range":["#000000","#1f77b4","#ff7f0e"]},"legend":{"title":null,"orient":"top-right","encode":{"symbols":{"update":{"shape":{"signal":"datum.value==='SIR'?'M-3.2,0H3.2M0,-1.6L0.38,-0.52L1.52,-0.49L0.61,0.2L0.94,1.29L0,0.64L-0.94,1.29L-0.61,0.2L-1.52,-0.49L-0.38,-0.52Z':datum.value==='SIRD'?'M-3.2,0H3.2M0,-0.9L0.8,0.5L-0.8,0.5Z':'M-3.2,0H3.2M0.45,0A0.45,0.45,0,1,1,-0.45,0A0.45,0.45,0,1,1,0.45,0Z'"},"fill":{"signal":"datum.value==='SIR'?'#000000':datum.value==='SIRD'?'#1f77b4':'#ff7f0e'"},"stroke":{"signal":"datum.value==='SIR'?'#000000':datum.value==='SIRD'?'#1f77b4':'#ff7f0e'"},"strokeWidth":{"value":1},"opacity":{"value":1}}}}}}},
    "layer":[{"mark":{"type":"line","strokeWidth":1.1}},{"mark":{"type":"point","filled":true,"opacity":1,"size":30},"encoding":{"shape":{"field":"s","type":"nominal","scale":{"domain":["SIR","SIRD","SEIR"],"range":["M0,-1L0.235,-0.324L0.951,-0.309L0.38,0.124L0.588,0.809L0,0.4L-0.588,0.809L-0.38,0.124L-0.951,-0.309L-0.235,-0.324Z","M0,-0.6L0.55,0.35L-0.55,0.35Z","M0.35,0A0.35,0.35,0,1,1,-0.35,0A0.35,0.35,0,1,1,0.35,0Z"]},"legend":null}}}]},
   {"data":{"name":"e3"},"mark":{"type":"rule","strokeWidth":1.2},"encoding":{"x":{"field":"d","type":"temporal","scale":{"type":"utc","domain":[{"year":2021,"month":1,"date":28,"hours":16,"utc":true},{"year":2021,"month":5,"date":19,"hours":23,"utc":true}]},"axis":null},"stroke":{"field":"k","type":"nominal","scale":{"domain":["ann","poll","blue","res"],"range":["#6b8e8e","#b22222","#1f1fa0","#111111"]},"legend":null},"strokeDash":{"field":"k","type":"nominal","scale":{"domain":["ann","poll","blue","res"],"range":[[1.5,2],[3.5,2],[1,0],[1,0]]},"legend":null}}}
  ]},
  {"width":280,"height":87,"layer":[
   {"data":{"values":[{}]},"mark":{"type":"rule","color":"#444444","strokeDash":[3,2],"strokeWidth":0.8},"encoding":{"y":{"datum":0}}},
   {"data":{"name":"ag"},"transform":[{"fold":["SIR","SIRD","SEIR"],"as":["s","v"]}],
    "encoding":{"x":{"field":"d","type":"temporal","scale":{"type":"utc","domain":[{"year":2021,"month":1,"date":28,"hours":10,"utc":true},{"year":2021,"month":5,"date":19,"hours":12,"utc":true}]},"axis":null},
     "y":{"field":"v","type":"quantitative","scale":{"domain":[-0.25,5.22],"nice":false,"zero":false},"axis":{"values":[0,2,4],"title":"γ(t)"}},
     "color":{"field":"s","type":"nominal","scale":{"domain":["SIR","SIRD","SEIR"],"range":["#000000","#1f77b4","#ff7f0e"]},"legend":{"title":null,"orient":"top-right","encode":{"symbols":{"update":{"shape":{"signal":"datum.value==='SIR'?'M-3.2,0H3.2M0,-1.6L0.38,-0.52L1.52,-0.49L0.61,0.2L0.94,1.29L0,0.64L-0.94,1.29L-0.61,0.2L-1.52,-0.49L-0.38,-0.52Z':datum.value==='SIRD'?'M-3.2,0H3.2M0,-0.9L0.8,0.5L-0.8,0.5Z':'M-3.2,0H3.2M0.45,0A0.45,0.45,0,1,1,-0.45,0A0.45,0.45,0,1,1,0.45,0Z'"},"fill":{"signal":"datum.value==='SIR'?'#000000':datum.value==='SIRD'?'#1f77b4':'#ff7f0e'"},"stroke":{"signal":"datum.value==='SIR'?'#000000':datum.value==='SIRD'?'#1f77b4':'#ff7f0e'"},"strokeWidth":{"value":1},"opacity":{"value":1}}}}}}},
    "layer":[{"mark":{"type":"line","strokeWidth":1.1}},{"mark":{"type":"point","filled":true,"opacity":1,"size":30},"encoding":{"shape":{"field":"s","type":"nominal","scale":{"domain":["SIR","SIRD","SEIR"],"range":["M0,-1L0.235,-0.324L0.951,-0.309L0.38,0.124L0.588,0.809L0,0.4L-0.588,0.809L-0.38,0.124L-0.951,-0.309L-0.235,-0.324Z","M0,-0.6L0.55,0.35L-0.55,0.35Z","M0.35,0A0.35,0.35,0,1,1,-0.35,0A0.35,0.35,0,1,1,0.35,0Z"]},"legend":null}}}]},
   {"data":{"name":"e2"},"mark":{"type":"rule","strokeWidth":1.2},"encoding":{"x":{"field":"d","type":"temporal","scale":{"type":"utc","domain":[{"year":2021,"month":1,"date":28,"hours":10,"utc":true},{"year":2021,"month":5,"date":19,"hours":12,"utc":true}]},"axis":null},"stroke":{"field":"k","type":"nominal","scale":{"domain":["ann","poll","blue","res"],"range":["#6b8e8e","#b22222","#1f1fa0","#111111"]},"legend":null},"strokeDash":{"field":"k","type":"nominal","scale":{"domain":["ann","poll","blue","res"],"range":[[1.5,2],[3.5,2],[1,0],[1,0]]},"legend":null}}}
  ]},
  {"width":280,"height":87,"layer":[
   {"data":{"values":[{}]},"mark":{"type":"rule","color":"#444444","strokeDash":[3,2],"strokeWidth":0.8},"encoding":{"y":{"datum":0}}},
   {"data":{"name":"wg"},"transform":[{"fold":["SIR","SIRD","SEIR"],"as":["s","v"]}],
    "encoding":{"x":{"field":"d","type":"temporal","scale":{"type":"utc","domain":[{"year":2021,"month":1,"date":28,"hours":16,"utc":true},{"year":2021,"month":5,"date":19,"hours":23,"utc":true}]},"axis":null},
     "y":{"field":"v","type":"quantitative","scale":{"domain":[-0.055,1.16],"nice":false,"zero":false},"axis":{"values":[0,0.5,1],"format":".1f","title":"γ(t)"}},
     "color":{"field":"s","type":"nominal","scale":{"domain":["SIR","SIRD","SEIR"],"range":["#000000","#1f77b4","#ff7f0e"]},"legend":{"title":null,"orient":"top-right","encode":{"symbols":{"update":{"shape":{"signal":"datum.value==='SIR'?'M-3.2,0H3.2M0,-1.6L0.38,-0.52L1.52,-0.49L0.61,0.2L0.94,1.29L0,0.64L-0.94,1.29L-0.61,0.2L-1.52,-0.49L-0.38,-0.52Z':datum.value==='SIRD'?'M-3.2,0H3.2M0,-0.9L0.8,0.5L-0.8,0.5Z':'M-3.2,0H3.2M0.45,0A0.45,0.45,0,1,1,-0.45,0A0.45,0.45,0,1,1,0.45,0Z'"},"fill":{"signal":"datum.value==='SIR'?'#000000':datum.value==='SIRD'?'#1f77b4':'#ff7f0e'"},"stroke":{"signal":"datum.value==='SIR'?'#000000':datum.value==='SIRD'?'#1f77b4':'#ff7f0e'"},"strokeWidth":{"value":1},"opacity":{"value":1}}}}}}},
    "layer":[{"mark":{"type":"line","strokeWidth":1.1}},{"mark":{"type":"point","filled":true,"opacity":1,"size":30},"encoding":{"shape":{"field":"s","type":"nominal","scale":{"domain":["SIR","SIRD","SEIR"],"range":["M0,-1L0.235,-0.324L0.951,-0.309L0.38,0.124L0.588,0.809L0,0.4L-0.588,0.809L-0.38,0.124L-0.951,-0.309L-0.235,-0.324Z","M0,-0.6L0.55,0.35L-0.55,0.35Z","M0.35,0A0.35,0.35,0,1,1,-0.35,0A0.35,0.35,0,1,1,0.35,0Z"]},"legend":null}}}]},
   {"data":{"name":"e3"},"mark":{"type":"rule","strokeWidth":1.2},"encoding":{"x":{"field":"d","type":"temporal","scale":{"type":"utc","domain":[{"year":2021,"month":1,"date":28,"hours":16,"utc":true},{"year":2021,"month":5,"date":19,"hours":23,"utc":true}]},"axis":null},"stroke":{"field":"k","type":"nominal","scale":{"domain":["ann","poll","blue","res"],"range":["#6b8e8e","#b22222","#1f1fa0","#111111"]},"legend":null},"strokeDash":{"field":"k","type":"nominal","scale":{"domain":["ann","poll","blue","res"],"range":[[1.5,2],[3.5,2],[1,0],[1,0]]},"legend":null}}}
  ]},
  {"width":280,"height":87,"layer":[
   {"data":{"values":[{}]},"mark":{"type":"rule","color":"#444444","strokeDash":[3,2],"strokeWidth":0.8},"encoding":{"y":{"datum":0}}},
   {"data":{"name":"ar"},"transform":[{"fold":["SIR","SIRD","SEIR"],"as":["s","v"]}],
    "encoding":{"x":{"field":"d","type":"temporal","scale":{"type":"utc","domain":[{"year":2021,"month":1,"date":28,"hours":10,"utc":true},{"year":2021,"month":5,"date":19,"hours":12,"utc":true}]},"axis":{"values":[{"year":2021,"month":2,"date":1,"utc":true},{"year":2021,"month":2,"date":21,"utc":true},{"year":2021,"month":3,"date":13,"utc":true},{"year":2021,"month":4,"date":2,"utc":true},{"year":2021,"month":4,"date":22,"utc":true},{"year":2021,"month":5,"date":12,"utc":true}],"format":"%Y-%m-%d","labelAngle":-45,"labelAlign":"right","labelBaseline":"top","title":"Date"}},
     "y":{"field":"v","type":"quantitative","scale":{"domain":[-1.3,26.4],"nice":false,"zero":false},"axis":{"values":[0,10,20],"title":"ℝ(t)"}},
     "color":{"field":"s","type":"nominal","scale":{"domain":["SIR","SIRD","SEIR"],"range":["#000000","#1f77b4","#ff7f0e"]},"legend":{"title":null,"orient":"top-right","encode":{"symbols":{"update":{"shape":{"signal":"datum.value==='SIR'?'M-3.2,0H3.2M0,-1.6L0.38,-0.52L1.52,-0.49L0.61,0.2L0.94,1.29L0,0.64L-0.94,1.29L-0.61,0.2L-1.52,-0.49L-0.38,-0.52Z':datum.value==='SIRD'?'M-3.2,0H3.2M0,-0.9L0.8,0.5L-0.8,0.5Z':'M-3.2,0H3.2M0.45,0A0.45,0.45,0,1,1,-0.45,0A0.45,0.45,0,1,1,0.45,0Z'"},"fill":{"signal":"datum.value==='SIR'?'#000000':datum.value==='SIRD'?'#1f77b4':'#ff7f0e'"},"stroke":{"signal":"datum.value==='SIR'?'#000000':datum.value==='SIRD'?'#1f77b4':'#ff7f0e'"},"strokeWidth":{"value":1},"opacity":{"value":1}}}}}}},
    "layer":[{"mark":{"type":"line","strokeWidth":1.1}},{"mark":{"type":"point","filled":true,"opacity":1,"size":30},"encoding":{"shape":{"field":"s","type":"nominal","scale":{"domain":["SIR","SIRD","SEIR"],"range":["M0,-1L0.235,-0.324L0.951,-0.309L0.38,0.124L0.588,0.809L0,0.4L-0.588,0.809L-0.38,0.124L-0.951,-0.309L-0.235,-0.324Z","M0,-0.6L0.55,0.35L-0.55,0.35Z","M0.35,0A0.35,0.35,0,1,1,-0.35,0A0.35,0.35,0,1,1,0.35,0Z"]},"legend":null}}}]},
   {"data":{"name":"e2"},"mark":{"type":"rule","strokeWidth":1.2},"encoding":{"x":{"field":"d","type":"temporal","scale":{"type":"utc","domain":[{"year":2021,"month":1,"date":28,"hours":10,"utc":true},{"year":2021,"month":5,"date":19,"hours":12,"utc":true}]},"axis":{"values":[{"year":2021,"month":2,"date":1,"utc":true},{"year":2021,"month":2,"date":21,"utc":true},{"year":2021,"month":3,"date":13,"utc":true},{"year":2021,"month":4,"date":2,"utc":true},{"year":2021,"month":4,"date":22,"utc":true},{"year":2021,"month":5,"date":12,"utc":true}],"format":"%Y-%m-%d","labelAngle":-45,"labelAlign":"right","labelBaseline":"top","title":"Date"}},"stroke":{"field":"k","type":"nominal","scale":{"domain":["ann","poll","blue","res"],"range":["#6b8e8e","#b22222","#1f1fa0","#111111"]},"legend":null},"strokeDash":{"field":"k","type":"nominal","scale":{"domain":["ann","poll","blue","res"],"range":[[1.5,2],[3.5,2],[1,0],[1,0]]},"legend":null}}}
  ]},
  {"width":280,"height":87,"layer":[
   {"data":{"values":[{}]},"mark":{"type":"rule","color":"#444444","strokeDash":[3,2],"strokeWidth":0.8},"encoding":{"y":{"datum":0}}},
   {"data":{"name":"wr"},"transform":[{"fold":["SIR","SIRD","SEIR"],"as":["s","v"]}],
    "encoding":{"x":{"field":"d","type":"temporal","scale":{"type":"utc","domain":[{"year":2021,"month":1,"date":28,"hours":16,"utc":true},{"year":2021,"month":5,"date":19,"hours":23,"utc":true}]},"axis":{"values":[{"year":2021,"month":2,"date":1,"utc":true},{"year":2021,"month":2,"date":21,"utc":true},{"year":2021,"month":3,"date":13,"utc":true},{"year":2021,"month":4,"date":2,"utc":true},{"year":2021,"month":4,"date":22,"utc":true},{"year":2021,"month":5,"date":12,"utc":true}],"format":"%Y-%m-%d","labelAngle":-45,"labelAlign":"right","labelBaseline":"top","title":"Date"}},
     "y":{"field":"v","type":"quantitative","scale":{"domain":[-0.9,18],"nice":false,"zero":false},"axis":{"values":[0,5,10,15],"title":"ℝ(t)"}},
     "color":{"field":"s","type":"nominal","scale":{"domain":["SIR","SIRD","SEIR"],"range":["#000000","#1f77b4","#ff7f0e"]},"legend":{"title":null,"orient":"top-right","encode":{"symbols":{"update":{"shape":{"signal":"datum.value==='SIR'?'M-3.2,0H3.2M0,-1.6L0.38,-0.52L1.52,-0.49L0.61,0.2L0.94,1.29L0,0.64L-0.94,1.29L-0.61,0.2L-1.52,-0.49L-0.38,-0.52Z':datum.value==='SIRD'?'M-3.2,0H3.2M0,-0.9L0.8,0.5L-0.8,0.5Z':'M-3.2,0H3.2M0.45,0A0.45,0.45,0,1,1,-0.45,0A0.45,0.45,0,1,1,0.45,0Z'"},"fill":{"signal":"datum.value==='SIR'?'#000000':datum.value==='SIRD'?'#1f77b4':'#ff7f0e'"},"stroke":{"signal":"datum.value==='SIR'?'#000000':datum.value==='SIRD'?'#1f77b4':'#ff7f0e'"},"strokeWidth":{"value":1},"opacity":{"value":1}}}}}}},
    "layer":[{"mark":{"type":"line","strokeWidth":1.1}},{"mark":{"type":"point","filled":true,"opacity":1,"size":30},"encoding":{"shape":{"field":"s","type":"nominal","scale":{"domain":["SIR","SIRD","SEIR"],"range":["M0,-1L0.235,-0.324L0.951,-0.309L0.38,0.124L0.588,0.809L0,0.4L-0.588,0.809L-0.38,0.124L-0.951,-0.309L-0.235,-0.324Z","M0,-0.6L0.55,0.35L-0.55,0.35Z","M0.35,0A0.35,0.35,0,1,1,-0.35,0A0.35,0.35,0,1,1,0.35,0Z"]},"legend":null}}}]},
   {"data":{"name":"e3"},"mark":{"type":"rule","strokeWidth":1.2},"encoding":{"x":{"field":"d","type":"temporal","scale":{"type":"utc","domain":[{"year":2021,"month":1,"date":28,"hours":16,"utc":true},{"year":2021,"month":5,"date":19,"hours":23,"utc":true}]},"axis":{"values":[{"year":2021,"month":2,"date":1,"utc":true},{"year":2021,"month":2,"date":21,"utc":true},{"year":2021,"month":3,"date":13,"utc":true},{"year":2021,"month":4,"date":2,"utc":true},{"year":2021,"month":4,"date":22,"utc":true},{"year":2021,"month":5,"date":12,"utc":true}],"format":"%Y-%m-%d","labelAngle":-45,"labelAlign":"right","labelBaseline":"top","title":"Date"}},"stroke":{"field":"k","type":"nominal","scale":{"domain":["ann","poll","blue","res"],"range":["#6b8e8e","#b22222","#1f1fa0","#111111"]},"legend":null},"strokeDash":{"field":"k","type":"nominal","scale":{"domain":["ann","poll","blue","res"],"range":[[1.5,2],[3.5,2],[1,0],[1,0]]},"legend":null}}}
  ]}
],
"columns":2,
"spacing":{"row":0,"column":88},
"bounds":"flush",
"resolve":{"scale":{"color":"independent","shape":"independent"},"legend":{"color":"independent"}}
}
